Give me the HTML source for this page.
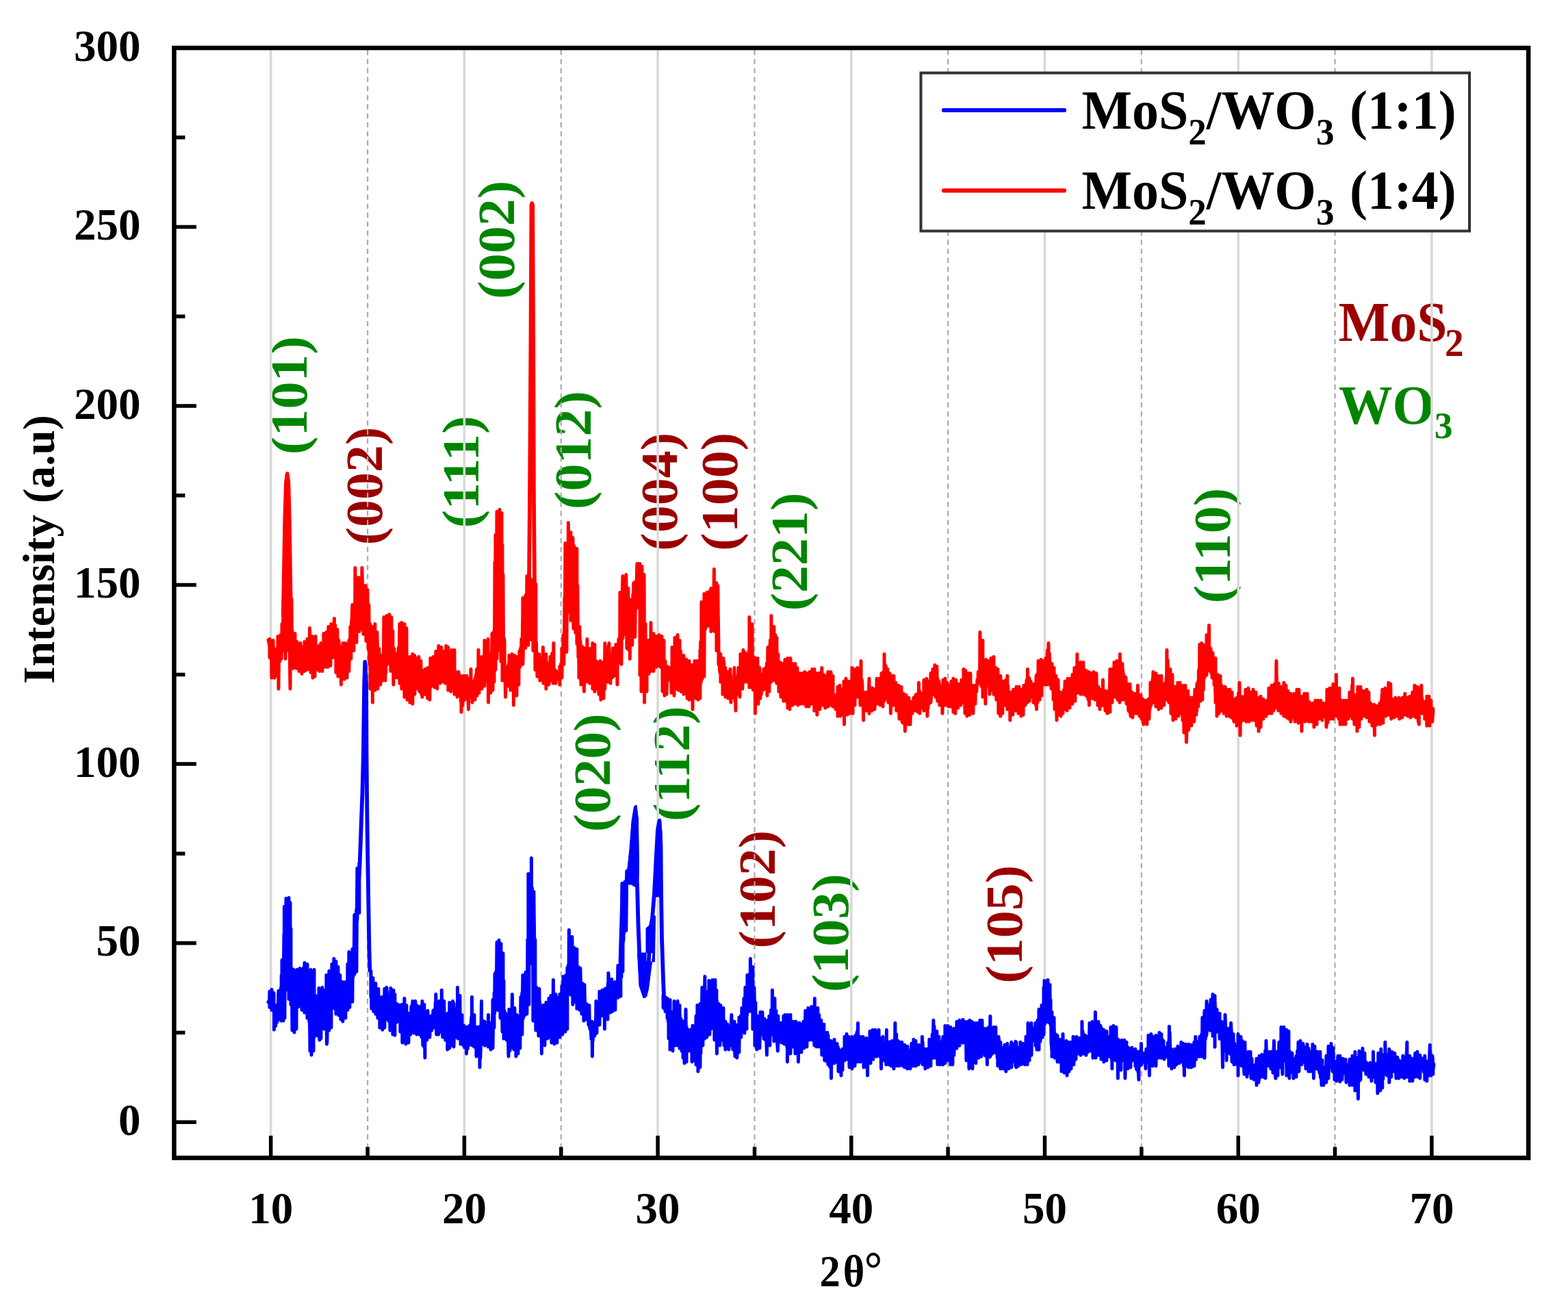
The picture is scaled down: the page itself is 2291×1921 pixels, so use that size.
<!DOCTYPE html><html><head><meta charset="utf-8"><style>
html,body{margin:0;padding:0;background:#fff;overflow:hidden;}
svg{display:block;}
text{font-family:'Liberation Serif', 'Times New Roman', serif;}
</style></head><body>
<svg width="2291" height="1921" viewBox="0 0 2291 1921">
<rect width="2291" height="1921" fill="#fff"/>

<text transform="translate(447.8,664.2) rotate(-90) scale(1,0.955)" font-size="80" font-weight="bold" fill="#008500">(101)</text>
<text transform="translate(557.7,796.6) rotate(-90) scale(1,0.955)" font-size="80" font-weight="bold" fill="#9b0000">(002)</text>
<text transform="translate(699.4,771.5) rotate(-90) scale(1,0.955)" font-size="80" font-weight="bold" fill="#008500">(111)</text>
<text transform="translate(750.6,436.9) rotate(-90) scale(1,0.955)" font-size="80" font-weight="bold" fill="#008500">(002)</text>
<text transform="translate(863.0,744.2) rotate(-90) scale(1,0.955)" font-size="80" font-weight="bold" fill="#008500">(012)</text>
<text transform="translate(988.7,804.9) rotate(-90) scale(1,0.955)" font-size="80" font-weight="bold" fill="#9b0000">(004)</text>
<text transform="translate(1077.3,804.9) rotate(-90) scale(1,0.955)" font-size="80" font-weight="bold" fill="#9b0000">(100)</text>
<text transform="translate(1179.4,892.6) rotate(-90) scale(1,0.955)" font-size="80" font-weight="bold" fill="#008500">(221)</text>
<text transform="translate(1797.4,881.5) rotate(-90) scale(1,0.955)" font-size="80" font-weight="bold" fill="#008500">(110)</text>
<text transform="translate(891.1,1215.4) rotate(-90) scale(1,0.955)" font-size="80" font-weight="bold" fill="#008500">(020)</text>
<text transform="translate(1007.0,1200.1) rotate(-90) scale(1,0.955)" font-size="80" font-weight="bold" fill="#008500">(112)</text>
<text transform="translate(1132.1,1385.8) rotate(-90) scale(1,0.955)" font-size="80" font-weight="bold" fill="#9b0000">(102)</text>
<text transform="translate(1239.2,1449.5) rotate(-90) scale(1,0.955)" font-size="80" font-weight="bold" fill="#008500">(103)</text>
<text transform="translate(1493.2,1436.8) rotate(-90) scale(1,0.955)" font-size="80" font-weight="bold" fill="#9b0000">(105)</text>
<g transform="translate(1955.5,497.5) scale(0.97,1)"><text font-size="82" font-weight="bold" fill="#9b0000">MoS<tspan font-size="57" dy="22" dx="-3.6">2</tspan></text></g>
<g transform="translate(1956,618.7) scale(0.97,1)"><text font-size="81" font-weight="bold" fill="#008500">WO<tspan font-size="55" dy="21">3</tspan></text></g>
<g><line x1="395.7" y1="70.0" x2="395.7" y2="1691.5" stroke="#d9d9d9" stroke-width="3.6"/><line x1="678.4" y1="70.0" x2="678.4" y2="1691.5" stroke="#d9d9d9" stroke-width="3.6"/><line x1="961.1" y1="70.0" x2="961.1" y2="1691.5" stroke="#d9d9d9" stroke-width="3.6"/><line x1="1243.8" y1="70.0" x2="1243.8" y2="1691.5" stroke="#d9d9d9" stroke-width="3.6"/><line x1="1526.5" y1="70.0" x2="1526.5" y2="1691.5" stroke="#d9d9d9" stroke-width="3.6"/><line x1="1809.2" y1="70.0" x2="1809.2" y2="1691.5" stroke="#d9d9d9" stroke-width="3.6"/><line x1="2091.9" y1="70.0" x2="2091.9" y2="1691.5" stroke="#d9d9d9" stroke-width="3.6"/><line x1="537.1" y1="73.0" x2="537.1" y2="1691.5" stroke="#ababab" stroke-width="2.2" stroke-dasharray="7.5 5.7"/><line x1="819.8" y1="73.0" x2="819.8" y2="1691.5" stroke="#ababab" stroke-width="2.2" stroke-dasharray="7.5 5.7"/><line x1="1102.5" y1="73.0" x2="1102.5" y2="1691.5" stroke="#ababab" stroke-width="2.2" stroke-dasharray="7.5 5.7"/><line x1="1385.1" y1="73.0" x2="1385.1" y2="1691.5" stroke="#ababab" stroke-width="2.2" stroke-dasharray="7.5 5.7"/><line x1="1667.8" y1="73.0" x2="1667.8" y2="1691.5" stroke="#ababab" stroke-width="2.2" stroke-dasharray="7.5 5.7"/><line x1="1950.5" y1="73.0" x2="1950.5" y2="1691.5" stroke="#ababab" stroke-width="2.2" stroke-dasharray="7.5 5.7"/></g>
<path d="M392.0,934.9L392.0,934.9L392.0,934.9L392.6,937.2L393.1,939.8L393.7,944.0L394.0,933.4L394.0,960.4L394.3,941.8L394.8,941.9L395.4,937.2L396.0,962.8L396.5,943.3L397.0,990.3L397.1,978.5L397.6,961.9L398.2,963.3L398.8,966.9L399.0,935.4L399.3,944.4L399.9,968.7L400.5,961.8L401.0,947.4L401.0,990.3L401.0,969.2L401.6,962.1L402.2,956.2L402.7,975.8L403.3,972.9L403.9,971.2L404.0,955.4L404.4,986.9L405.0,966.4L405.6,982.3L406.0,929.4L406.1,967.3L406.7,971.0L407.0,1006.3L407.3,972.6L407.8,950.5L408.4,950.4L408.9,965.9L409.5,957.9L410.0,927.4L410.1,956.1L410.6,944.9L411.0,962.4L411.2,956.8L411.8,939.3L412.0,911.4L412.3,924.8L412.9,943.9L413.5,922.2L414.0,875.4L414.0,950.4L414.0,915.0L414.6,894.2L415.2,886.8L415.7,909.3L416.3,891.3L416.9,930.0L417.0,962.4L417.4,898.0L418.0,934.8L418.6,943.3L419.1,902.6L419.7,922.7L420.0,950.4L420.2,919.0L420.8,893.1L421.4,909.4L421.9,919.0L422.5,898.8L423.1,930.7L423.6,979.1L424.0,1006.3L424.2,948.6L424.8,921.1L425.3,976.8L425.9,972.9L426.0,875.4L426.5,933.3L427.0,921.4L427.0,944.3L427.6,925.7L428.0,976.4L428.2,932.5L428.7,933.6L429.3,927.7L429.9,936.4L430.4,948.0L431.0,925.4L431.0,944.8L431.5,942.3L432.1,941.2L432.7,972.9L433.0,976.4L433.2,954.5L433.8,940.5L434.0,937.4L434.4,950.8L434.9,959.6L435.5,960.7L436.1,957.1L436.6,957.1L437.0,949.4L437.0,980.4L437.2,972.6L437.8,973.3L438.3,954.9L438.9,959.7L439.0,939.4L439.5,967.8L440.0,951.3L440.6,979.4L441.0,984.3L441.2,976.4L441.7,973.6L442.3,954.9L442.8,946.6L443.4,944.7L444.0,958.5L444.5,967.9L445.0,937.4L445.0,980.4L445.1,978.7L445.7,965.3L446.2,945.9L446.8,944.3L447.4,968.6L447.9,963.8L448.5,966.3L449.0,933.4L449.0,978.4L449.1,949.9L449.6,971.4L450.2,959.4L450.8,951.6L451.3,955.3L451.9,961.5L452.5,960.4L452.5,917.4L453.0,947.2L453.6,929.7L454.0,982.3L454.1,974.2L454.7,953.9L455.3,975.2L455.8,955.2L456.0,929.4L456.4,933.7L457.0,990.3L457.0,978.8L457.5,973.6L458.1,968.7L458.7,960.4L459.2,945.6L459.8,953.8L460.0,988.3L460.4,948.9L460.9,958.4L461.0,929.4L461.5,953.8L462.1,970.3L462.6,967.3L463.0,945.4L463.0,978.4L463.2,962.4L463.8,954.0L464.3,955.2L464.9,958.2L465.4,955.3L466.0,943.4L466.0,966.7L466.6,958.4L467.0,980.4L467.1,967.6L467.7,954.1L468.3,950.8L468.8,965.7L468.9,939.4L469.4,965.9L470.0,966.0L470.5,959.8L470.9,980.4L471.1,960.9L471.7,954.2L472.2,963.8L472.8,966.6L472.9,925.4L473.4,956.2L473.9,963.2L474.5,949.3L474.9,974.4L475.1,938.4L475.6,931.9L476.2,942.6L476.7,966.2L476.9,923.4L477.3,945.0L477.9,942.4L478.4,970.2L478.9,974.4L479.0,951.0L479.6,941.9L479.9,915.4L480.1,968.6L480.7,932.1L481.3,939.3L481.8,928.8L482.4,935.1L482.9,972.4L483.0,942.2L483.5,922.1L483.9,911.4L484.1,944.0L484.7,940.1L485.2,958.8L485.8,918.4L486.4,929.6L486.9,917.0L486.9,960.4L487.5,943.9L488.0,937.7L488.4,903.4L488.6,939.0L489.2,948.4L489.7,913.0L490.3,948.4L490.9,947.4L490.9,982.3L491.4,963.8L492.0,948.2L492.6,949.5L492.9,919.4L493.1,947.0L493.7,971.6L493.9,988.3L494.3,941.8L494.8,956.0L494.9,935.4L495.4,944.4L496.0,945.7L496.5,957.5L497.1,971.0L497.7,962.7L497.9,945.4L498.2,954.8L498.4,1000.3L498.8,951.1L499.3,978.6L499.9,960.1L500.5,969.7L500.9,939.4L501.0,974.6L501.6,976.2L502.2,963.8L502.7,983.9L502.9,992.3L503.3,970.4L503.9,974.6L504.4,959.0L504.9,939.4L505.0,944.3L505.6,961.1L506.1,952.0L506.7,964.9L506.9,943.4L506.9,990.3L507.3,978.5L507.8,953.1L508.4,956.8L509.0,951.7L509.5,964.2L509.9,935.4L509.9,980.4L510.1,968.5L510.6,957.1L511.2,939.2L511.8,926.9L511.9,915.4L512.3,937.8L512.9,925.2L512.9,962.4L513.5,907.2L514.0,909.0L514.6,889.1L514.9,883.4L515.2,900.4L515.7,917.9L516.3,926.4L516.9,931.7L516.9,950.4L517.4,885.1L518.0,901.6L518.6,910.3L518.9,829.4L519.1,880.0L519.7,915.5L520.3,916.0L520.8,869.2L520.9,938.4L521.4,903.4L521.9,916.5L522.5,907.8L523.1,902.1L523.6,853.7L523.9,843.4L524.2,863.0L524.8,879.6L524.9,922.4L525.3,888.3L525.9,892.2L526.5,857.0L527.0,900.3L527.6,877.6L527.9,918.4L528.2,863.3L528.7,874.8L528.9,829.4L529.3,846.8L529.9,876.0L530.4,912.6L530.9,926.4L531.0,878.1L531.6,892.5L532.1,903.7L532.7,878.5L533.2,868.1L533.8,896.1L533.9,855.4L534.4,879.2L534.9,936.4L534.9,870.5L535.5,913.0L536.1,898.7L536.6,900.7L536.9,861.4L537.2,887.8L537.8,911.9L537.9,946.4L538.3,948.3L538.9,901.1L538.9,883.4L539.5,957.2L539.9,970.4L540.0,926.2L540.6,957.8L540.9,911.4L540.9,1006.3L541.2,949.8L541.7,945.3L542.3,968.0L542.9,982.7L543.4,999.0L543.9,915.4L544.0,976.6L544.4,1026.3L544.5,943.1L545.1,941.1L545.7,953.6L546.2,938.2L546.8,971.2L547.4,949.2L547.9,911.4L547.9,1008.3L547.9,957.9L548.5,991.0L549.1,970.7L549.6,952.4L550.2,989.3L550.8,956.0L550.9,923.4L551.3,939.7L551.9,966.4L551.9,1006.3L552.5,978.4L553.0,956.9L553.6,965.5L553.9,947.4L554.2,984.5L554.7,994.1L555.3,989.8L555.8,988.1L555.9,1000.3L556.4,971.2L557.0,980.6L557.5,984.8L557.9,957.4L558.1,960.6L558.7,970.3L558.9,994.3L559.2,957.6L559.8,959.4L560.4,962.6L560.9,901.4L560.9,945.9L561.5,945.5L562.1,916.2L562.6,952.8L562.9,994.3L563.2,933.1L563.8,983.2L564.3,924.2L564.9,910.6L564.9,899.4L565.5,915.3L565.9,970.4L566.0,916.6L566.6,950.2L567.1,939.2L567.7,930.8L568.3,922.5L568.8,909.1L568.9,897.4L568.9,966.4L569.4,937.4L570.0,941.4L570.5,941.8L570.9,980.4L571.1,921.4L571.7,936.3L571.9,901.4L572.2,978.9L572.8,946.0L573.4,944.5L573.9,921.4L573.9,972.3L574.5,949.5L574.9,1000.3L575.1,978.4L575.6,990.1L575.9,947.4L576.2,978.4L576.8,955.9L577.3,977.9L577.9,987.3L578.4,981.8L578.9,955.4L579.0,973.8L579.6,969.4L579.9,990.3L580.1,975.1L580.7,971.5L581.3,960.0L581.8,980.0L581.9,951.4L582.4,946.0L583.0,966.7L583.5,942.6L583.9,911.4L583.9,998.3L584.1,938.1L584.7,945.0L585.2,983.8L585.8,973.5L586.4,932.7L586.9,909.4L586.9,1006.3L586.9,990.2L587.5,925.9L588.1,968.5L588.6,944.6L589.2,992.3L589.7,924.4L590.3,951.1L590.9,958.5L590.9,911.4L590.9,1018.3L591.4,994.2L592.0,951.2L592.6,982.2L593.1,970.9L593.7,968.2L593.9,917.4L594.3,988.6L594.8,979.7L594.9,959.4L594.9,1022.3L595.4,979.7L596.0,1011.1L596.5,976.8L597.1,998.0L597.7,965.7L598.2,974.4L598.8,1018.9L598.9,959.4L598.9,1026.3L599.4,1017.4L599.9,1001.5L600.5,996.7L601.0,984.5L601.6,993.7L602.2,981.4L602.7,961.8L602.9,955.4L602.9,1028.3L603.3,978.0L603.9,992.5L604.4,994.3L605.0,993.1L605.6,993.9L605.9,957.4L605.9,1014.3L606.1,972.3L606.7,993.1L607.3,973.5L607.8,982.8L608.4,989.4L608.9,961.4L608.9,1006.3L609.0,979.5L609.5,963.2L610.1,988.2L610.7,999.6L611.2,974.7L611.8,998.7L611.9,959.4L612.3,984.5L612.9,1010.3L612.9,976.0L613.5,981.2L614.0,1001.7L614.6,988.5L614.9,965.4L615.2,984.3L615.7,1014.1L616.3,988.7L616.9,979.4L616.9,1018.3L616.9,997.3L617.4,1000.6L618.0,1008.4L618.6,1008.9L619.1,995.9L619.7,990.7L620.3,993.7L620.8,994.9L620.9,977.4L620.9,1014.3L621.4,983.0L622.0,988.3L622.5,1002.8L623.1,1015.0L623.6,983.4L624.2,988.7L624.8,1001.3L624.9,975.4L624.9,1020.3L625.3,989.0L625.9,1003.6L626.5,1010.9L627.0,989.0L627.6,997.8L627.9,1022.3L628.2,990.3L628.7,987.4L628.9,961.4L629.3,973.8L629.9,985.8L630.4,980.8L630.9,1002.3L631.0,989.5L631.6,975.8L632.1,991.3L632.7,983.4L632.9,959.4L633.3,987.7L633.8,998.1L634.4,964.3L634.9,1004.3L634.9,962.8L635.5,993.4L636.1,986.8L636.6,986.9L636.8,951.4L637.2,979.1L637.8,979.1L638.3,983.5L638.8,1006.3L638.9,964.6L639.5,956.3L640.0,970.2L640.6,969.1L640.8,943.4L641.2,953.4L641.7,968.3L642.3,958.4L642.8,998.3L642.9,980.6L643.4,949.1L644.0,969.9L644.6,964.3L644.8,945.4L645.1,967.9L645.7,964.1L646.2,978.5L646.8,969.4L646.8,996.3L647.4,967.5L647.9,993.6L648.5,963.9L648.8,951.4L649.1,972.5L649.6,971.3L650.2,979.0L650.8,979.8L650.8,998.3L651.3,961.8L651.8,943.4L651.9,959.7L652.5,989.2L653.0,965.4L653.6,971.1L654.2,958.2L654.7,990.7L654.8,945.4L654.8,1008.3L655.3,964.9L655.9,1001.8L656.4,958.3L657.0,1007.0L657.5,966.6L658.1,990.1L658.7,996.7L658.8,953.4L658.8,1010.3L659.2,980.0L659.8,978.7L660.0,949.4L660.0,1006.3L660.4,985.5L660.9,979.1L661.5,967.9L662.1,976.9L662.6,960.9L663.2,1000.8L663.8,968.8L664.0,949.4L664.0,1014.3L664.3,978.5L664.9,988.3L665.5,997.5L666.0,981.4L666.0,997.7L666.6,999.2L667.2,1000.9L667.7,997.6L668.0,1018.3L668.3,993.6L668.8,995.9L669.4,1013.9L670.0,995.5L670.0,981.4L670.5,995.4L671.1,996.1L671.7,996.7L672.2,998.3L672.8,1003.7L673.4,1025.4L673.9,1002.2L674.0,987.3L674.0,1040.3L674.5,1009.9L675.1,1014.0L675.6,1031.0L676.2,1022.2L676.8,1012.6L677.3,1017.0L677.9,1008.4L678.0,987.3L678.5,1019.1L679.0,1022.3L679.0,994.6L679.6,1004.0L680.1,1009.6L680.7,1006.2L681.3,1016.4L681.8,997.3L682.0,987.3L682.4,1005.0L683.0,990.8L683.5,1011.7L684.1,1024.4L684.5,1036.3L684.7,1008.2L685.2,999.1L685.8,1007.4L686.4,1017.8L686.9,1017.7L687.5,1007.1L688.0,977.4L688.1,1004.3L688.6,1005.4L689.2,1017.5L689.8,1006.9L690.0,1026.3L690.3,996.2L690.9,1000.5L691.4,1006.6L692.0,1017.2L692.6,1010.3L693.1,994.7L693.7,993.6L694.0,991.3L694.0,1022.3L694.3,1006.1L694.8,1009.8L695.4,986.6L696.0,989.4L696.5,978.4L697.0,1016.3L697.1,977.0L697.7,982.6L698.2,979.1L698.8,985.5L699.0,949.4L699.4,983.9L699.9,963.3L700.0,1012.3L700.5,974.1L701.1,1000.8L701.6,973.0L702.2,973.3L702.7,980.3L703.3,984.9L703.9,998.7L704.0,959.4L704.0,1006.3L704.4,985.0L705.0,968.2L705.6,967.5L706.1,970.6L706.7,960.1L707.3,974.0L707.8,963.0L708.0,935.4L708.0,1002.3L708.4,974.8L709.0,970.4L709.5,957.4L710.1,970.7L710.7,994.1L711.2,969.1L711.8,985.4L712.4,986.1L712.9,948.4L713.0,933.4L713.5,1026.3L713.5,953.1L714.0,990.4L714.6,1007.5L715.2,993.5L715.7,997.3L716.0,981.4L716.3,1001.2L716.9,986.4L717.0,1012.3L717.4,988.1L718.0,973.6L718.6,952.0L719.0,925.4L719.1,996.3L719.7,969.7L720.0,1008.3L720.3,973.9L720.8,969.2L721.0,923.4L721.4,966.6L722.0,974.4L722.0,996.3L722.5,940.4L723.0,821.4L723.1,948.5L723.7,902.7L724.0,781.5L724.0,978.4L724.2,864.6L724.8,852.8L725.3,861.4L725.9,766.7L726.0,747.5L726.0,962.4L726.5,832.9L727.0,866.4L727.0,775.8L727.6,750.5L728.2,826.6L728.7,833.4L729.0,868.4L729.3,794.7L729.9,861.6L730.0,744.5L730.0,950.4L730.4,924.0L731.0,845.4L731.6,947.9L732.0,966.4L732.1,782.6L732.7,765.7L733.0,749.5L733.3,946.9L733.8,937.5L734.0,795.5L734.0,994.3L734.4,898.1L735.0,855.1L735.0,839.4L735.5,931.9L736.1,935.2L736.6,932.8L737.0,935.4L737.2,976.1L737.8,973.5L738.3,1003.2L738.5,1018.3L738.9,1005.5L739.0,975.4L739.5,984.1L740.0,997.9L740.6,993.9L741.2,987.9L741.7,990.3L742.0,975.4L742.3,988.3L742.9,970.8L743.0,1002.3L743.4,997.9L743.9,957.4L744.0,969.0L744.6,988.3L745.1,973.7L745.7,986.7L745.9,1008.3L746.3,988.5L746.8,970.0L747.4,991.4L747.9,978.8L747.9,955.4L748.5,984.0L749.1,1006.2L749.6,990.7L750.2,985.4L750.4,1030.3L750.8,992.2L751.3,989.3L751.9,973.4L751.9,957.4L752.5,1004.2L753.0,998.6L753.6,979.8L754.2,997.2L754.7,999.5L754.9,1016.3L755.3,977.8L755.9,985.4L755.9,959.4L756.4,993.4L757.0,971.4L757.6,987.1L757.9,1000.3L758.1,966.7L758.7,973.8L758.9,951.4L759.2,957.9L759.8,969.3L759.9,974.4L760.4,947.6L760.9,949.1L761.5,948.6L761.9,933.4L762.1,940.5L762.6,962.9L763.2,935.7L763.8,900.9L763.9,873.4L763.9,970.4L764.3,957.5L764.9,926.3L765.5,909.1L766.0,884.9L766.6,888.4L767.2,918.3L767.7,916.2L767.9,869.4L767.9,946.4L768.3,909.2L768.9,889.7L769.4,903.8L769.9,841.4L770.0,910.3L770.5,909.3L771.1,875.2L771.7,922.8L771.9,942.4L772.2,915.8L772.8,917.6L773.4,896.1L773.9,888.4L774.5,868.9L774.9,934.4L775.1,903.3L775.6,858.2L775.9,846.7L776.2,846.8L776.8,847.1L777.3,847.3L777.9,847.6L777.9,847.6L778.5,872.1L778.9,950.4L779.0,902.1L779.6,935.6L780.2,897.3L780.7,918.9L781.3,940.1L781.8,888.8L781.9,978.4L782.4,912.8L782.9,853.4L783.0,948.5L783.5,938.1L783.9,953.4L784.1,973.7L784.7,973.2L784.9,988.3L785.2,977.5L785.8,978.3L786.4,970.7L786.9,975.9L787.5,975.7L787.9,955.4L788.1,962.9L788.6,967.5L788.9,994.3L789.2,962.0L789.8,976.1L790.3,964.7L790.9,972.2L791.5,983.7L792.0,972.9L792.6,962.1L793.1,969.4L793.4,945.4L793.7,983.7L793.9,998.3L794.3,974.0L794.8,979.3L795.4,975.3L796.0,993.1L796.5,971.8L797.1,970.8L797.7,985.1L797.9,955.4L797.9,1006.3L798.2,983.7L798.8,971.4L799.4,971.0L799.9,973.6L800.5,969.0L801.1,974.7L801.6,980.7L801.9,1000.3L802.2,979.7L802.8,995.6L803.3,977.1L803.9,993.4L803.9,959.4L804.4,977.8L805.0,969.3L805.6,975.1L806.1,972.4L806.7,954.4L807.3,972.5L807.8,957.3L807.9,998.3L808.4,989.7L808.9,939.4L809.0,970.9L809.5,982.9L810.1,988.9L810.7,991.7L811.2,982.7L811.8,990.9L811.9,979.4L811.9,998.3L812.4,991.8L812.9,986.7L813.5,981.7L814.1,983.2L814.6,983.6L815.2,987.6L815.7,992.4L816.3,985.5L816.9,987.6L817.4,993.7L817.9,973.4L817.9,1000.3L818.0,983.4L818.6,983.4L819.1,984.0L819.7,969.5L820.3,984.8L820.8,975.9L820.9,947.4L820.9,990.3L821.4,964.7L822.0,958.5L822.5,963.6L822.9,927.4L823.1,954.4L823.7,934.3L823.9,970.4L824.2,941.8L824.8,905.5L824.9,873.4L825.4,899.1L825.9,793.5L825.9,887.4L826.5,893.7L827.0,851.9L827.6,909.2L827.9,952.4L828.2,898.4L828.7,824.2L829.3,833.1L829.9,858.0L829.9,894.4L830.4,763.5L830.4,813.1L831.0,856.3L831.6,789.7L831.9,890.4L832.1,782.4L832.7,867.6L833.3,866.4L833.8,875.1L833.9,777.5L833.9,906.4L834.4,859.1L835.0,863.9L835.5,839.6L836.1,856.2L836.7,840.9L836.9,785.5L837.2,801.5L837.8,898.2L837.9,918.4L838.3,858.3L838.9,797.5L838.9,896.4L839.5,848.7L840.0,843.5L840.6,845.9L840.9,924.4L841.2,899.7L841.7,841.0L842.3,811.5L842.9,897.6L842.9,801.5L842.9,940.4L843.4,909.2L843.9,855.4L844.0,876.4L844.6,936.3L844.9,960.4L845.1,943.7L845.7,915.4L845.9,990.3L846.3,940.8L846.8,920.7L846.9,915.4L847.4,949.4L847.9,935.4L848.0,969.1L848.5,966.7L848.9,1000.3L849.1,942.9L849.6,969.7L850.2,969.8L850.8,968.1L851.3,992.5L851.9,945.4L851.9,970.5L852.5,987.6L853.0,990.3L853.4,1010.3L853.6,985.0L854.2,969.1L854.7,966.9L854.9,947.4L855.3,971.9L855.9,973.9L856.4,971.3L857.0,954.3L857.6,964.3L857.9,933.4L857.9,996.3L858.1,968.9L858.7,964.7L859.3,967.8L859.8,970.1L860.4,974.6L860.9,990.6L861.5,968.5L861.9,947.4L861.9,998.3L862.1,973.8L862.6,987.2L863.2,971.1L863.8,996.5L864.3,970.1L864.9,982.8L865.5,974.9L865.9,939.4L865.9,1006.3L866.0,989.7L866.6,976.6L867.2,949.2L867.7,975.0L868.3,999.4L868.9,971.5L868.9,941.4L868.9,1010.3L869.4,999.7L870.0,977.6L870.6,1000.1L870.9,965.4L871.1,998.9L871.7,974.7L871.9,1006.3L872.2,994.0L872.8,986.7L873.4,992.3L873.9,967.4L873.9,995.9L874.5,982.5L874.9,1014.3L875.1,990.9L875.6,997.6L876.2,989.1L876.8,992.5L876.9,965.4L877.3,1006.4L877.9,1022.3L877.9,1005.6L878.5,995.9L879.0,977.0L879.6,990.9L880.2,992.1L880.7,991.9L880.9,967.4L881.3,969.0L881.9,1000.8L881.9,1020.3L882.4,976.4L883.0,978.2L883.5,973.6L883.9,939.4L883.9,1006.3L884.1,957.3L884.7,972.6L885.2,982.3L885.8,965.1L886.4,976.0L886.9,990.2L887.5,990.9L887.9,996.3L888.1,947.7L888.6,950.3L889.2,943.3L889.8,980.7L889.9,939.4L890.3,980.3L890.9,968.0L891.5,968.8L891.9,998.3L892.0,971.2L892.6,963.2L893.2,984.0L893.7,968.6L894.3,956.1L894.8,989.8L895.4,946.9L895.9,988.3L896.0,955.2L896.5,985.0L897.1,962.9L897.7,979.1L898.2,983.5L898.8,946.5L899.4,987.1L899.9,941.4L899.9,968.2L900.5,978.9L901.1,951.8L901.6,949.7L901.9,1000.3L902.2,956.8L902.8,947.1L903.3,954.7L903.9,933.4L903.9,958.7L904.5,948.9L905.0,946.2L905.6,968.6L905.9,865.4L906.1,897.5L906.7,919.7L907.3,942.4L907.8,899.8L907.9,970.4L908.4,921.5L909.0,886.2L909.5,856.5L909.9,841.4L909.9,932.4L910.1,898.7L910.7,886.6L911.2,871.0L911.8,859.4L912.4,891.5L912.8,926.4L912.9,868.8L913.5,895.4L914.1,891.5L914.6,886.5L914.8,839.4L915.2,885.8L915.8,883.7L915.8,946.4L916.3,871.9L916.9,918.8L917.4,948.4L917.8,859.4L918.0,878.8L918.6,908.6L919.1,914.8L919.7,917.0L919.8,875.4L920.3,926.6L920.3,962.4L920.8,888.8L921.4,934.4L921.8,891.4L922.0,909.7L922.5,921.5L923.1,902.9L923.7,906.6L923.8,942.4L924.2,901.0L924.8,868.4L925.4,901.3L925.8,851.4L925.9,871.7L926.5,906.1L927.1,907.9L927.6,861.1L927.8,930.4L928.2,892.7L928.7,875.3L928.8,849.4L929.3,879.7L929.9,888.7L930.4,843.9L930.8,823.4L930.8,882.4L931.0,864.3L931.6,857.0L932.1,853.4L932.7,839.1L933.3,851.9L933.8,838.9L933.8,823.4L933.8,882.4L934.4,875.8L935.0,890.0L935.0,823.4L935.0,986.3L935.5,965.9L936.1,915.0L936.7,927.9L937.0,1010.3L937.2,912.7L937.8,961.9L938.0,827.4L938.4,926.1L938.9,883.0L939.5,944.0L940.0,862.1L940.6,936.8L941.0,839.4L941.2,857.2L941.5,1026.3L941.7,937.3L942.3,928.6L942.9,969.1L943.0,911.4L943.4,957.8L944.0,996.4L944.6,940.0L945.0,939.4L945.0,1010.3L945.1,973.9L945.7,951.3L946.3,953.8L946.8,978.4L947.0,935.4L947.4,953.2L948.0,954.4L948.0,984.3L948.5,976.8L949.1,946.5L949.7,961.8L950.2,959.2L950.8,949.7L951.0,909.4L951.0,980.4L951.3,930.8L951.9,960.7L952.5,971.2L953.0,969.8L953.6,937.1L954.2,977.2L954.7,943.2L955.0,925.4L955.0,980.4L955.3,952.7L955.9,942.1L956.4,950.9L957.0,931.4L957.6,970.3L958.1,965.5L958.7,967.8L959.0,929.4L959.0,974.4L959.3,949.9L959.8,949.3L960.4,950.0L961.0,961.1L961.5,947.5L962.0,972.4L962.1,949.1L962.6,955.6L963.0,927.4L963.2,949.3L963.8,944.1L964.3,961.8L964.9,945.2L965.0,974.4L965.5,946.2L966.0,936.3L966.6,951.8L967.0,929.4L967.2,948.6L967.7,955.1L968.0,1010.3L968.3,989.2L968.9,981.3L969.4,970.3L970.0,935.4L970.0,975.3L970.6,982.7L971.0,1016.3L971.1,970.1L971.7,981.1L972.0,965.4L972.3,990.0L972.8,976.3L973.4,994.2L973.9,993.5L974.0,1014.3L974.5,997.1L975.0,973.4L975.1,992.0L975.6,977.2L976.2,992.4L976.8,979.8L977.3,987.1L977.9,977.8L978.0,992.3L978.5,992.5L979.0,975.4L979.0,980.8L979.6,986.6L980.2,995.3L980.7,993.2L981.0,1012.3L981.3,997.0L981.9,987.7L982.0,945.4L982.4,996.1L983.0,979.6L983.6,972.7L984.1,990.3L984.7,994.4L985.0,1016.3L985.2,974.2L985.8,999.5L986.0,931.4L986.4,970.8L986.9,966.5L987.5,969.5L988.0,1006.3L988.1,965.8L988.6,956.3L989.2,992.8L989.8,965.3L990.0,927.4L990.3,947.8L990.9,958.1L991.0,1008.3L991.5,957.2L992.0,980.1L992.6,997.2L993.0,935.4L993.2,979.2L993.7,987.6L994.3,950.4L994.9,984.0L995.0,955.4L995.0,1010.3L995.4,1002.3L996.0,998.5L996.5,985.0L997.1,986.6L997.7,983.5L998.2,993.8L998.8,991.5L999.0,957.4L999.0,1014.3L999.4,971.4L999.9,986.1L1000.5,1000.7L1001.1,1001.4L1001.6,991.3L1002.2,999.7L1002.8,1000.6L1003.0,963.4L1003.3,977.2L1003.9,1014.7L1004.0,1020.3L1004.5,981.7L1005.0,1009.3L1005.6,1016.0L1006.2,1002.2L1006.7,977.9L1007.0,965.4L1007.0,1022.3L1007.3,995.0L1007.8,977.5L1008.4,1003.8L1009.0,1008.5L1009.5,989.7L1010.1,1006.7L1010.7,1001.7L1011.0,971.4L1011.2,980.7L1011.8,1017.1L1012.0,1036.3L1012.4,997.7L1012.9,1002.4L1013.5,996.7L1014.1,1014.8L1014.6,996.4L1015.0,965.4L1015.2,973.8L1015.8,990.8L1016.3,973.1L1016.9,1002.5L1017.0,1020.3L1017.5,1004.6L1018.0,967.4L1018.6,996.0L1018.9,965.4L1019.1,995.2L1019.7,975.4L1019.9,1022.3L1020.3,991.2L1020.8,987.6L1021.4,983.0L1022.0,985.3L1022.5,1004.7L1022.9,949.4L1022.9,1020.3L1023.1,983.7L1023.7,937.3L1024.2,997.2L1024.8,956.5L1024.9,879.4L1025.4,945.1L1025.9,967.1L1025.9,992.3L1026.5,959.2L1027.1,910.3L1027.6,927.2L1028.2,940.6L1028.8,945.0L1028.9,867.4L1028.9,988.3L1029.3,889.8L1029.9,891.1L1030.4,910.3L1030.9,918.4L1031.0,884.0L1031.6,889.8L1032.1,877.9L1032.7,889.8L1032.9,865.4L1033.3,880.4L1033.8,877.0L1034.4,871.5L1034.9,914.4L1035.0,889.6L1035.5,886.3L1036.1,873.4L1036.7,889.7L1036.9,863.4L1037.2,898.8L1037.8,889.9L1038.4,893.2L1038.9,901.4L1038.9,859.4L1038.9,922.4L1039.5,894.5L1040.1,878.1L1040.6,870.4L1041.2,882.7L1041.7,901.8L1042.3,864.2L1042.9,870.8L1043.4,831.4L1043.4,876.7L1043.9,922.4L1044.0,881.3L1044.6,885.0L1045.1,889.3L1045.7,885.9L1046.3,870.6L1046.8,901.5L1046.9,851.4L1046.9,950.4L1047.4,902.1L1048.0,888.3L1048.5,900.5L1048.9,855.4L1049.1,885.7L1049.7,928.2L1049.9,935.4L1049.9,970.4L1050.2,952.3L1050.8,953.7L1051.4,976.7L1051.9,982.6L1052.5,960.6L1052.9,955.4L1052.9,996.3L1053.0,970.3L1053.6,978.7L1054.2,982.2L1054.7,981.4L1055.3,989.9L1055.9,981.7L1055.9,1014.3L1056.4,988.5L1056.9,961.4L1057.0,1000.5L1057.6,966.4L1058.1,975.9L1058.7,985.9L1059.3,980.2L1059.8,992.6L1059.9,975.4L1059.9,1018.3L1060.4,1006.1L1061.0,997.5L1061.5,1001.3L1062.1,986.6L1062.7,1012.1L1062.9,981.4L1063.2,987.5L1063.8,1009.6L1063.9,1020.3L1064.3,985.9L1064.9,998.5L1065.5,1003.5L1066.0,997.1L1066.6,1003.1L1066.9,977.4L1067.2,1015.0L1067.7,986.2L1067.9,1026.3L1068.3,1011.2L1068.9,1018.3L1069.4,1017.6L1070.0,1005.3L1070.6,996.7L1071.1,1002.2L1071.7,1005.9L1072.3,999.0L1072.8,1020.1L1072.9,975.4L1073.4,999.7L1074.0,1024.6L1074.5,1000.1L1074.9,1038.3L1075.1,988.4L1075.6,993.9L1076.2,988.5L1076.8,1014.4L1077.3,988.5L1077.9,1000.8L1078.5,1008.3L1078.9,975.4L1079.0,1004.2L1079.6,989.1L1080.2,997.9L1080.7,999.7L1080.9,1018.3L1081.3,983.6L1081.9,987.4L1081.9,955.4L1082.4,1001.9L1083.0,965.5L1083.6,969.2L1084.1,961.7L1084.7,976.3L1084.9,1006.3L1085.3,965.7L1085.8,970.8L1085.9,949.4L1086.4,963.7L1086.9,952.8L1087.5,991.7L1087.9,996.3L1088.1,969.9L1088.6,986.5L1088.9,953.4L1089.2,966.6L1089.8,968.0L1090.3,967.3L1090.9,987.8L1091.5,988.1L1091.9,959.4L1091.9,996.3L1092.0,974.9L1092.6,956.1L1093.2,961.0L1093.7,967.9L1094.3,950.1L1094.9,992.6L1094.9,901.4L1094.9,1004.3L1095.4,951.1L1096.0,982.9L1096.6,930.8L1097.1,962.7L1097.7,952.5L1097.9,1004.3L1098.2,966.7L1098.8,924.4L1098.9,911.4L1099.4,972.4L1099.9,1006.3L1099.9,990.0L1100.5,1007.9L1100.9,959.4L1101.1,988.7L1101.6,974.6L1102.2,983.3L1102.8,992.6L1103.3,1017.9L1103.4,1042.3L1103.9,966.5L1103.9,961.4L1104.5,985.8L1105.0,988.9L1105.6,1024.2L1106.2,1005.2L1106.7,994.7L1106.9,961.4L1107.3,994.5L1107.9,990.2L1107.9,1028.3L1108.4,1012.1L1109.0,1000.1L1109.5,992.3L1109.9,975.4L1110.1,997.2L1110.7,984.0L1110.9,1020.3L1111.2,995.3L1111.8,1015.4L1112.4,1013.3L1112.9,985.4L1112.9,1008.1L1113.5,996.3L1114.1,1000.6L1114.6,993.0L1114.9,1008.3L1115.2,999.9L1115.8,991.9L1115.9,977.4L1116.3,995.7L1116.9,980.0L1117.5,993.4L1117.9,1006.3L1118.0,987.4L1118.6,991.3L1118.9,975.4L1119.2,990.6L1119.7,988.9L1120.3,969.2L1120.8,999.2L1120.9,1016.3L1121.4,981.9L1121.9,945.4L1122.0,956.7L1122.5,968.2L1123.1,974.7L1123.7,961.7L1123.9,1010.3L1124.2,950.4L1124.8,947.8L1125.4,935.1L1125.9,968.5L1126.5,963.2L1126.9,996.3L1126.9,899.4L1127.1,941.9L1127.6,982.0L1128.2,946.6L1128.8,931.4L1129.3,973.1L1129.9,992.3L1129.9,948.3L1130.5,946.7L1130.9,915.4L1131.0,939.7L1131.6,942.3L1131.9,994.3L1132.1,941.4L1132.7,965.5L1132.9,927.4L1133.3,979.5L1133.8,977.8L1134.4,990.6L1134.9,931.4L1134.9,998.3L1135.0,962.7L1135.5,973.3L1136.1,989.1L1136.7,965.9L1136.9,955.4L1137.2,999.7L1137.8,978.5L1137.9,1010.3L1138.4,979.0L1138.9,997.1L1139.5,991.2L1139.9,967.4L1140.1,990.1L1140.6,983.7L1140.9,1018.3L1141.2,1004.1L1141.8,971.8L1142.3,992.2L1142.9,988.3L1143.4,995.1L1143.9,969.4L1144.0,983.2L1144.6,1007.5L1144.9,1024.3L1145.1,1009.9L1145.7,993.9L1146.3,979.3L1146.8,1005.3L1146.9,963.4L1147.4,988.7L1147.9,1024.3L1148.0,993.7L1148.5,996.8L1149.1,983.2L1149.7,1004.3L1150.2,1014.0L1150.8,976.1L1150.9,961.4L1150.9,1034.3L1151.4,1002.0L1151.9,984.7L1152.5,981.0L1153.1,1000.2L1153.6,989.1L1153.9,1036.3L1154.2,983.2L1154.7,974.4L1154.9,961.4L1155.3,1014.3L1155.9,970.7L1156.4,997.1L1157.0,992.0L1157.6,994.4L1157.9,969.4L1157.9,1030.3L1158.1,1014.5L1158.7,1000.4L1159.3,1009.5L1159.8,1018.7L1160.4,1007.2L1161.0,988.5L1161.5,1018.7L1161.9,969.4L1161.9,1028.3L1162.1,1017.3L1162.7,1001.8L1163.2,1007.6L1163.8,1000.8L1164.4,1000.8L1164.9,975.4L1164.9,986.3L1165.5,1011.8L1165.9,1030.3L1166.0,1000.5L1166.6,992.0L1167.2,993.2L1167.7,1003.4L1167.9,983.4L1168.3,1003.9L1168.9,1003.2L1169.4,988.7L1169.9,1028.3L1170.0,997.1L1170.6,1012.1L1171.1,1012.1L1171.7,1017.2L1171.9,983.4L1172.3,989.0L1172.8,1018.5L1173.4,1008.5L1173.9,1028.3L1174.0,1012.2L1174.5,995.0L1175.1,1009.8L1175.7,988.3L1175.9,981.4L1176.2,992.2L1176.8,1004.7L1177.3,997.2L1177.9,1032.3L1177.9,1019.1L1178.5,1003.9L1178.9,983.4L1179.0,1024.9L1179.6,999.8L1180.2,1024.5L1180.7,994.3L1181.3,1000.3L1181.9,1032.3L1181.9,1020.1L1182.4,1010.0L1182.9,981.4L1183.0,1008.1L1183.6,1007.0L1184.1,1005.5L1184.7,991.3L1185.3,995.7L1185.8,999.1L1185.8,1028.3L1186.4,1000.0L1186.8,977.4L1187.0,990.2L1187.5,1018.4L1188.1,1006.9L1188.6,1016.1L1189.2,989.9L1189.8,986.4L1189.8,977.4L1189.8,1038.3L1190.3,1004.4L1190.9,1016.9L1191.5,1014.5L1192.0,1018.0L1192.6,1010.6L1192.8,983.4L1193.2,1013.3L1193.7,1028.2L1193.8,1044.3L1194.3,1015.9L1194.9,1034.9L1195.4,1004.5L1195.8,983.4L1196.0,1024.8L1196.6,986.2L1197.1,1013.2L1197.7,1012.4L1197.8,1036.3L1198.3,1013.7L1198.8,1002.4L1199.4,982.3L1199.9,992.6L1200.5,996.7L1200.8,975.4L1201.1,1012.2L1201.6,986.0L1201.8,1030.3L1202.2,1021.8L1202.8,984.9L1203.3,1007.1L1203.9,1019.5L1204.5,1008.0L1205.0,1015.7L1205.6,1015.8L1205.8,987.3L1205.8,1034.3L1206.2,1006.8L1206.7,1003.0L1207.3,1015.8L1207.9,999.6L1208.4,1016.4L1209.0,1022.0L1209.6,993.8L1209.8,981.4L1209.8,1032.3L1210.0,983.4L1210.0,1030.3L1210.1,999.7L1210.7,993.3L1211.2,1016.1L1211.8,1013.4L1212.4,1001.1L1212.9,1006.6L1213.0,1030.3L1213.5,1009.4L1214.0,981.4L1214.1,1020.4L1214.6,997.5L1215.2,1016.6L1215.8,1004.7L1216.3,1010.2L1216.9,1020.1L1217.0,987.3L1217.0,1032.3L1217.5,1014.4L1218.0,1018.3L1218.6,1019.8L1219.2,1032.8L1219.7,1019.4L1220.0,1019.3L1220.3,1027.6L1220.9,1025.2L1221.0,1036.3L1221.4,1024.3L1222.0,1015.1L1222.5,1021.6L1223.1,1029.8L1223.7,1037.1L1224.0,1003.3L1224.0,1046.3L1224.2,1025.0L1224.8,1025.1L1225.4,1018.4L1225.9,1018.3L1226.5,1013.6L1227.0,1001.3L1227.1,1024.1L1227.6,1028.7L1228.0,1046.3L1228.2,1016.8L1228.8,1017.0L1229.3,1024.7L1229.9,1026.3L1230.0,1007.3L1230.5,1019.6L1231.0,1024.3L1231.6,1034.7L1232.2,1032.2L1232.7,1045.0L1233.0,995.3L1233.3,1009.1L1233.5,1058.3L1233.8,1004.7L1234.4,1010.5L1235.0,1022.1L1235.5,1003.1L1236.0,991.3L1236.1,1030.8L1236.7,1022.8L1237.2,1037.8L1237.8,1034.3L1238.0,1044.3L1238.4,1011.8L1238.9,1028.8L1239.5,1013.7L1240.0,995.3L1240.1,1008.7L1240.6,1020.1L1241.2,1032.4L1241.8,1018.4L1242.0,1042.3L1242.3,1014.2L1242.9,1009.3L1243.0,1003.3L1243.5,1033.8L1244.0,1014.5L1244.6,1012.2L1245.0,975.4L1245.1,1015.4L1245.7,1018.6L1246.0,1042.3L1246.3,1000.3L1246.8,1019.0L1247.4,1024.2L1248.0,1001.7L1248.5,1008.0L1249.0,977.4L1249.0,1030.3L1249.1,1006.4L1249.7,1006.2L1250.2,1001.6L1250.8,1004.8L1251.4,995.8L1251.9,1002.6L1252.5,1002.0L1253.0,975.4L1253.0,1018.3L1253.1,996.9L1253.6,982.5L1254.2,1008.6L1254.8,999.1L1255.3,999.4L1255.9,998.1L1256.4,1001.6L1257.0,1030.3L1257.0,1021.7L1257.6,996.7L1258.0,965.4L1258.1,1009.0L1258.7,1004.4L1259.3,992.7L1259.8,1000.0L1260.4,1028.9L1261.0,1013.3L1261.5,1052.3L1261.5,1038.2L1262.0,1011.3L1262.1,1033.7L1262.7,1035.1L1263.2,1027.5L1263.8,1029.0L1264.4,1023.5L1264.9,1022.1L1265.5,1017.0L1266.0,1011.3L1266.0,1038.3L1266.1,1021.5L1266.6,1011.7L1267.2,1022.3L1267.7,1013.1L1268.3,1018.6L1268.9,1030.0L1269.4,1008.9L1270.0,991.3L1270.0,1042.3L1270.0,1027.3L1270.6,1003.2L1271.1,1013.5L1271.7,1018.6L1272.3,1020.1L1272.8,1022.7L1273.4,1019.2L1274.0,1022.5L1274.0,1038.3L1274.5,1032.7L1275.0,1005.3L1275.1,1022.2L1275.7,1012.1L1276.2,1023.8L1276.8,1022.1L1277.4,1031.5L1277.9,1016.3L1278.0,1007.3L1278.0,1036.3L1278.5,1018.8L1279.0,1022.0L1279.6,1022.0L1280.2,1012.4L1280.7,1018.1L1281.0,991.3L1281.3,1018.3L1281.9,999.6L1282.0,1028.3L1282.4,1014.3L1283.0,1020.2L1283.6,997.7L1284.1,1008.4L1284.7,995.0L1285.0,991.3L1285.3,1016.5L1285.8,1004.2L1286.0,1030.3L1286.4,1013.2L1287.0,1002.7L1287.5,1007.8L1288.0,983.4L1288.1,1026.9L1288.7,1005.5L1289.2,999.0L1289.8,1001.2L1290.0,1032.3L1290.3,983.8L1290.9,981.3L1291.5,1006.5L1292.0,1024.3L1292.0,955.4L1292.0,987.6L1292.6,969.8L1293.2,1012.4L1293.7,995.9L1294.3,972.8L1294.9,992.0L1294.9,1020.3L1295.4,994.8L1296.0,996.5L1296.6,999.6L1296.9,977.4L1297.1,1012.4L1297.7,987.4L1297.9,1026.3L1298.3,1002.5L1298.8,1003.0L1299.4,1009.3L1299.9,983.4L1300.0,1009.5L1300.5,1021.7L1301.1,1023.6L1301.4,1042.3L1301.6,1022.8L1302.2,999.6L1302.8,1004.9L1302.9,987.3L1303.3,1010.7L1303.9,1006.1L1304.5,1022.1L1305.0,1016.8L1305.6,1016.9L1305.9,987.3L1305.9,1030.3L1306.2,998.9L1306.7,1010.6L1307.3,1015.0L1307.9,997.7L1308.4,1030.0L1308.9,997.3L1309.0,1018.3L1309.6,1021.0L1309.9,1038.3L1310.1,1015.5L1310.7,1014.7L1311.3,1018.3L1311.8,1011.7L1312.4,1021.0L1312.9,1001.3L1312.9,1017.8L1313.5,1030.9L1313.9,1050.3L1314.1,1026.0L1314.6,1045.6L1315.2,1012.9L1315.8,1028.0L1316.3,1022.1L1316.9,1017.3L1316.9,1003.3L1317.5,1033.3L1317.9,1054.3L1318.0,1025.9L1318.6,1031.4L1319.2,1056.2L1319.7,1047.3L1319.9,1013.3L1320.3,1028.9L1320.9,1044.7L1321.4,1040.2L1322.0,1049.8L1322.4,1068.3L1322.6,1045.0L1323.1,1020.8L1323.7,1044.5L1323.9,1015.3L1324.2,1041.7L1324.8,1038.6L1325.4,1052.0L1325.9,1045.2L1326.5,1032.5L1326.9,1058.3L1327.1,1034.1L1327.6,1038.5L1327.9,1019.3L1328.2,1038.4L1328.8,1027.9L1329.3,1034.0L1329.9,1046.7L1329.9,1058.3L1330.5,1040.8L1330.9,1025.3L1331.0,1032.6L1331.6,1033.7L1332.2,1031.6L1332.7,1030.2L1332.9,1042.3L1333.3,1030.1L1333.9,1032.3L1334.4,1032.3L1334.9,1019.3L1335.0,1033.5L1335.5,1021.1L1336.1,1028.4L1336.7,1028.1L1336.9,1038.3L1337.2,1022.7L1337.8,1023.6L1337.9,1015.3L1338.4,1024.7L1338.9,1019.7L1339.5,1014.1L1340.1,1025.2L1340.6,1029.3L1340.9,1040.3L1341.2,1020.6L1341.8,1026.1L1342.3,1025.1L1342.4,997.3L1342.9,1019.9L1343.5,1009.6L1343.9,1042.3L1344.0,1011.3L1344.6,1019.4L1345.2,1022.6L1345.7,1020.6L1346.3,1028.3L1346.8,1021.4L1346.9,1013.3L1346.9,1034.3L1347.4,1020.6L1348.0,1021.4L1348.5,1024.8L1349.1,1021.0L1349.7,1022.3L1349.9,993.3L1349.9,1038.3L1350.2,1014.4L1350.8,1024.6L1351.4,1004.5L1351.9,1016.4L1352.5,1013.0L1353.1,1004.3L1353.6,1002.5L1353.9,991.3L1354.2,1026.6L1354.8,1040.4L1354.9,1046.3L1355.3,1018.4L1355.9,1034.8L1356.5,1026.3L1356.9,995.3L1357.0,1012.6L1357.6,1027.7L1358.1,1007.8L1358.7,999.1L1359.3,1021.1L1359.8,1002.5L1359.9,983.4L1359.9,1026.3L1360.4,1019.4L1361.0,1014.9L1361.5,1012.6L1362.1,998.8L1362.7,1008.0L1362.9,977.4L1362.9,1014.3L1363.2,998.9L1363.8,1005.2L1364.4,996.4L1364.9,1011.1L1365.5,996.6L1365.9,971.4L1366.1,981.4L1366.6,987.9L1366.9,1018.3L1367.2,1004.9L1367.8,1005.7L1368.3,1001.3L1368.9,1009.5L1368.9,973.4L1369.4,1018.0L1369.9,1024.3L1370.0,992.1L1370.6,1015.4L1371.1,1007.1L1371.7,1021.6L1371.9,995.3L1372.3,1004.8L1372.8,1001.1L1372.9,1030.3L1373.4,1020.1L1374.0,1019.5L1374.5,1013.9L1374.9,1007.3L1375.1,1024.7L1375.7,1019.7L1376.2,1008.2L1376.8,1023.4L1376.9,1042.3L1377.4,1029.2L1377.9,993.3L1377.9,1012.0L1378.5,1012.6L1379.1,1002.7L1379.6,1021.0L1380.2,1015.6L1380.7,1022.8L1380.9,991.3L1381.3,1009.9L1381.9,1020.4L1381.9,1030.3L1382.4,1015.7L1383.0,1013.1L1383.6,1005.8L1383.9,997.3L1384.1,1016.6L1384.7,1019.5L1385.3,1009.1L1385.8,1010.5L1385.9,1032.3L1386.4,1022.4L1386.9,1001.3L1387.0,1021.5L1387.5,1025.2L1388.1,1010.6L1388.7,1022.0L1389.2,1014.9L1389.8,1014.1L1389.9,995.3L1389.9,1032.3L1390.4,1018.0L1390.9,1022.8L1391.5,1022.3L1392.0,1012.8L1392.6,1021.4L1392.9,991.3L1392.9,1040.3L1393.2,1020.9L1393.7,1031.5L1394.3,1011.4L1394.9,1003.7L1395.4,1038.2L1395.9,1042.3L1396.0,1010.9L1396.6,1008.1L1396.9,993.3L1397.1,1020.0L1397.7,1014.9L1398.3,1017.6L1398.8,1015.6L1399.4,1028.2L1399.9,1034.3L1400.0,1024.8L1400.5,1022.2L1400.9,999.3L1401.1,1022.9L1401.7,1005.7L1402.2,1021.6L1402.8,1016.4L1403.3,1007.2L1403.9,1030.3L1403.9,1013.2L1404.5,1010.1L1404.9,993.3L1405.0,999.1L1405.6,1002.6L1406.2,1025.8L1406.7,994.2L1406.9,1026.3L1407.3,1007.9L1407.9,998.0L1407.9,977.4L1408.4,988.2L1409.0,1001.3L1409.6,1016.7L1409.9,1042.3L1410.1,1014.3L1410.7,1020.5L1410.9,979.4L1411.3,1025.3L1411.8,995.4L1412.4,1020.6L1412.9,1046.3L1413.0,1021.3L1413.5,1014.9L1414.1,1023.0L1414.6,1008.6L1414.9,983.4L1415.2,1010.8L1415.8,1008.3L1416.3,1026.0L1416.9,1044.3L1416.9,1022.8L1417.5,998.8L1417.9,983.4L1418.0,1002.7L1418.6,1027.7L1419.2,1023.0L1419.7,1004.7L1420.3,1034.2L1420.9,1028.7L1420.9,1001.3L1421.4,1025.4L1421.9,1042.3L1422.0,1035.4L1422.6,1015.2L1423.1,1021.6L1423.7,1018.5L1424.3,1017.1L1424.8,1022.7L1424.9,1001.3L1424.9,1028.3L1425.4,1005.6L1425.9,1003.3L1426.5,1008.2L1426.9,1010.3L1427.1,1004.2L1427.6,1000.5L1427.9,993.3L1428.2,997.3L1428.8,998.0L1429.3,981.2L1429.9,998.3L1429.9,983.3L1430.5,993.8L1431.0,986.1L1431.6,983.1L1431.9,923.4L1432.2,956.2L1432.7,975.5L1433.3,940.3L1433.9,981.4L1433.9,1002.3L1434.4,949.5L1435.0,945.2L1435.6,1001.6L1435.9,935.4L1435.9,1018.3L1436.1,986.0L1436.7,978.2L1437.2,997.2L1437.8,989.8L1437.9,975.4L1438.4,983.9L1438.9,984.9L1439.5,1008.7L1439.9,1028.3L1440.1,993.1L1440.6,974.7L1440.9,963.4L1441.2,993.4L1441.8,990.8L1442.3,993.7L1442.9,994.2L1443.5,1001.8L1444.0,986.6L1444.6,979.1L1444.9,965.4L1445.2,977.4L1445.7,998.4L1445.9,1014.3L1446.3,988.1L1446.9,990.0L1447.4,988.9L1447.9,961.4L1448.0,1005.2L1448.5,992.0L1448.9,1008.3L1449.1,986.2L1449.7,975.6L1450.2,989.1L1450.8,990.3L1451.4,973.9L1451.9,959.4L1451.9,1014.3L1451.9,978.5L1452.5,987.4L1453.1,990.1L1453.6,990.9L1454.2,982.8L1454.8,1003.4L1454.9,975.4L1455.3,1014.9L1455.9,1022.3L1455.9,1019.5L1456.5,1012.4L1457.0,984.0L1457.6,1002.0L1457.9,977.4L1458.2,1018.4L1458.7,998.7L1458.9,1042.3L1459.3,1005.6L1459.8,1022.1L1460.4,990.4L1461.0,1022.8L1461.5,1023.9L1461.8,987.3L1461.8,1046.3L1462.1,993.9L1462.7,1015.2L1463.2,1029.8L1463.8,1036.0L1464.4,1025.2L1464.8,1042.3L1464.9,999.3L1465.5,1018.8L1465.8,995.3L1466.1,1004.8L1466.6,1013.3L1467.2,1026.2L1467.8,1019.6L1467.8,1030.3L1468.3,1013.8L1468.9,1024.8L1469.5,993.6L1470.0,1007.3L1470.6,997.8L1471.1,1026.3L1471.7,999.8L1471.8,987.3L1471.8,1036.3L1472.3,1024.0L1472.8,1001.6L1473.4,1030.9L1474.0,1024.1L1474.5,1010.8L1475.1,1032.9L1475.7,1021.7L1475.8,1052.3L1476.2,1015.4L1476.8,1031.6L1476.8,1011.3L1477.4,1036.6L1477.9,1019.9L1478.5,1024.2L1479.1,1025.1L1479.6,1033.6L1479.8,1044.3L1480.2,1023.9L1480.8,1028.1L1480.8,1007.3L1481.3,1025.6L1481.9,1018.6L1482.4,1027.6L1483.0,1017.3L1483.6,1032.6L1483.8,1038.3L1484.1,1027.9L1484.7,1009.2L1484.8,1007.3L1485.0,1003.3L1485.0,1034.3L1485.3,1031.5L1485.8,1004.8L1486.4,1023.7L1487.0,1019.5L1487.5,1032.9L1488.0,1042.3L1488.1,1026.4L1488.7,1006.7L1489.0,1003.3L1489.2,1020.8L1489.8,1037.8L1490.4,1024.6L1490.9,1018.8L1491.5,1023.7L1492.0,1046.3L1492.1,1042.4L1492.6,1023.6L1493.0,1007.3L1493.2,1033.5L1493.7,1027.9L1494.3,1032.6L1494.9,1006.3L1495.0,1044.3L1495.4,1019.1L1496.0,1001.3L1496.0,1009.0L1496.6,1013.5L1497.1,1027.5L1497.7,1004.9L1498.0,1030.3L1498.3,1007.9L1498.8,999.8L1499.4,1018.4L1500.0,993.8L1500.5,1017.4L1501.0,1026.3L1501.1,1001.5L1501.5,977.4L1501.7,994.1L1502.2,1000.9L1502.8,1016.3L1503.4,1000.3L1503.9,990.6L1504.0,1024.3L1504.5,1011.3L1505.0,1006.5L1505.6,1007.7L1506.0,995.3L1506.2,1014.6L1506.7,1013.5L1507.0,1018.3L1507.3,1016.4L1507.9,1006.0L1508.4,1016.5L1509.0,1014.9L1509.6,1013.7L1510.0,999.3L1510.0,1026.3L1510.1,1014.8L1510.7,1005.7L1511.3,1006.8L1511.8,1003.7L1512.4,1024.4L1513.0,1026.4L1513.5,1030.3L1514.0,987.3L1514.1,1011.7L1514.5,1036.3L1514.7,1000.1L1515.2,985.3L1515.8,1026.7L1516.3,1003.3L1516.9,1018.2L1517.0,965.4L1517.5,1006.2L1518.0,992.9L1518.6,992.3L1519.0,1022.3L1519.2,990.3L1519.7,996.0L1520.3,996.8L1520.9,1004.1L1521.0,963.4L1521.4,999.2L1522.0,1016.3L1522.0,1007.3L1522.6,971.6L1523.1,991.8L1523.7,970.5L1524.3,998.4L1524.8,976.3L1525.0,965.4L1525.0,1000.3L1525.4,989.3L1526.0,991.3L1526.5,972.7L1527.1,976.1L1527.6,970.8L1528.0,961.4L1528.2,992.4L1528.8,984.0L1529.0,1000.3L1529.3,983.9L1529.9,959.9L1530.5,949.8L1531.0,958.6L1531.6,959.3L1532.0,939.4L1532.2,990.1L1532.7,973.3L1533.0,1000.3L1533.3,954.8L1533.9,969.0L1534.4,982.0L1535.0,976.8L1535.6,989.3L1536.0,1006.3L1536.1,982.8L1536.7,990.1L1537.0,969.4L1537.3,1005.8L1537.8,992.5L1538.4,976.9L1538.9,999.3L1539.0,1022.3L1539.5,1006.6L1540.0,975.4L1540.1,998.6L1540.6,984.8L1541.0,1036.3L1541.2,1019.4L1541.8,1018.0L1542.3,993.3L1542.9,1012.9L1543.0,987.3L1543.5,1021.9L1544.0,1052.3L1544.0,1023.5L1544.6,1018.4L1545.2,1009.5L1545.7,1010.2L1546.0,993.3L1546.3,1021.8L1546.9,1014.0L1547.0,1044.3L1547.4,1023.1L1548.0,1013.6L1548.6,1022.5L1549.0,1011.3L1549.1,1030.6L1549.7,1028.1L1550.0,1046.3L1550.2,1037.9L1550.8,1019.0L1551.4,1024.0L1551.9,1032.7L1552.0,1017.3L1552.5,1017.4L1553.0,1042.3L1553.1,1021.3L1553.6,1019.1L1554.2,1008.2L1554.8,1017.2L1555.3,1027.7L1555.9,1001.7L1556.0,995.3L1556.0,1036.3L1556.5,1022.2L1557.0,1033.5L1557.6,1014.9L1558.2,1025.9L1558.7,1001.9L1559.0,1038.3L1559.3,1016.8L1559.9,999.5L1560.0,991.3L1560.4,1022.9L1561.0,1009.5L1561.5,1008.5L1562.1,1010.4L1562.7,1001.7L1563.0,1034.3L1563.2,1022.5L1563.8,995.3L1564.0,991.3L1564.4,1014.8L1564.9,999.8L1565.5,1015.2L1566.1,1002.7L1566.6,1012.9L1567.0,985.4L1567.0,1028.3L1567.2,1005.2L1567.8,1020.5L1568.3,1009.1L1568.9,1004.6L1569.5,997.1L1569.9,975.4L1570.0,999.7L1570.6,978.8L1570.9,1024.3L1571.2,985.1L1571.7,992.6L1572.3,1006.8L1572.8,992.1L1573.4,986.3L1573.9,955.4L1574.0,976.7L1574.5,998.2L1574.9,1012.3L1575.1,998.4L1575.7,981.8L1576.2,987.9L1576.8,999.4L1577.4,993.2L1577.9,982.7L1578.5,990.5L1578.9,967.4L1578.9,1014.3L1579.1,976.7L1579.6,990.6L1580.2,981.6L1580.8,984.1L1581.3,997.3L1581.9,976.2L1582.5,992.7L1582.9,967.4L1582.9,1014.3L1583.0,974.3L1583.6,994.3L1584.1,991.7L1584.7,981.2L1585.3,995.7L1585.8,1001.8L1586.4,1006.9L1586.9,979.4L1586.9,1016.3L1587.0,1002.1L1587.5,1005.7L1588.1,999.3L1588.7,982.7L1589.2,992.9L1589.8,1021.6L1590.4,1002.9L1590.9,1020.6L1590.9,981.4L1591.4,1030.3L1591.5,1010.0L1592.1,990.5L1592.6,1010.6L1593.2,1019.9L1593.8,1007.5L1593.9,983.4L1594.3,1003.0L1594.9,997.8L1595.4,1001.0L1595.9,1020.3L1596.0,993.8L1596.6,1005.2L1597.1,997.7L1597.7,1003.2L1597.9,981.4L1598.3,1010.9L1598.8,991.5L1599.4,1009.8L1599.9,1022.3L1600.0,998.9L1600.5,1018.3L1601.1,996.8L1601.7,1008.0L1601.9,983.4L1602.2,1013.8L1602.8,1011.2L1603.4,1012.7L1603.9,1020.7L1603.9,1030.3L1604.5,1005.8L1604.9,1003.3L1605.1,1010.5L1605.6,1006.8L1606.2,1017.3L1606.7,1015.7L1606.9,1036.3L1607.3,1028.7L1607.9,1021.9L1607.9,1007.3L1608.4,1014.1L1609.0,1010.6L1609.6,1014.0L1610.1,1020.5L1610.7,1023.8L1610.9,1030.3L1611.3,1017.6L1611.4,993.3L1611.8,1026.0L1612.4,1014.3L1613.0,1008.7L1613.5,1025.5L1614.1,1032.0L1614.7,1017.8L1614.9,1038.3L1615.2,1015.6L1615.8,1024.1L1615.9,1009.3L1616.4,1010.8L1616.9,1023.5L1617.5,1014.0L1617.9,1042.3L1618.0,1026.1L1618.6,1026.6L1618.9,1011.3L1619.2,1025.9L1619.7,1024.0L1620.3,1015.1L1620.9,1008.3L1621.4,1004.1L1621.9,977.4L1621.9,1040.3L1622.0,981.7L1622.6,985.0L1623.1,1015.2L1623.7,1006.2L1624.3,1005.2L1624.8,994.2L1624.9,977.4L1624.9,1026.3L1625.4,1012.7L1626.0,979.1L1626.5,999.5L1627.1,994.7L1627.7,1010.3L1627.9,967.4L1628.2,985.1L1628.8,990.2L1628.9,1018.3L1629.3,1008.2L1629.9,975.0L1630.5,999.1L1631.0,974.8L1631.6,984.7L1631.9,965.4L1632.2,989.6L1632.7,983.5L1632.9,1022.3L1633.3,1000.4L1633.9,984.7L1634.4,976.3L1635.0,1002.8L1635.6,1009.3L1635.9,1026.3L1636.1,974.1L1636.4,955.4L1636.7,988.2L1637.3,971.4L1637.8,1011.2L1638.4,1013.3L1638.9,1022.3L1639.0,996.9L1639.5,996.1L1639.9,969.4L1640.1,987.9L1640.6,978.5L1641.2,993.9L1641.8,1018.7L1641.9,985.4L1642.3,997.9L1642.9,1022.3L1642.9,997.8L1643.5,1003.4L1644.0,1010.9L1644.6,1005.2L1644.9,989.3L1645.2,998.6L1645.7,1005.3L1645.9,1028.3L1646.3,1009.9L1646.9,1010.0L1647.4,1024.2L1647.9,999.3L1648.0,1014.0L1648.6,1034.5L1648.9,1038.3L1649.1,1013.7L1649.7,1021.8L1650.3,1006.1L1650.8,1041.0L1650.9,999.3L1651.4,1014.2L1651.9,1046.3L1651.9,1023.2L1652.5,1022.6L1653.1,1031.6L1653.6,1019.2L1653.9,1011.3L1654.2,1030.7L1654.8,1018.0L1654.9,1048.3L1655.3,1028.0L1655.9,1015.3L1656.5,1023.9L1657.0,1028.5L1657.6,1027.1L1657.9,1013.3L1657.9,1042.3L1658.2,1024.0L1658.7,1016.8L1659.3,1027.4L1659.9,1025.2L1660.4,1038.7L1660.9,1042.3L1661.0,1031.8L1661.6,1021.2L1662.1,1026.6L1662.4,1001.3L1662.7,1020.3L1663.2,1027.4L1663.8,1023.9L1664.4,1018.7L1664.9,1046.3L1664.9,1022.7L1665.5,1031.6L1666.1,1033.4L1666.6,1030.2L1666.9,1015.3L1667.2,1024.8L1667.8,1037.6L1667.9,1050.3L1668.3,1042.1L1668.9,1032.4L1669.5,1046.1L1669.9,1021.3L1670.0,1043.5L1670.6,1051.6L1670.9,1058.3L1671.2,1033.4L1671.7,1035.4L1672.3,1031.3L1672.9,1043.0L1673.4,1041.5L1673.9,1023.3L1674.0,1052.0L1674.5,1043.5L1675.1,1054.7L1675.7,1049.0L1675.9,1058.3L1676.2,1040.9L1676.8,1039.5L1677.4,1037.5L1677.9,1021.3L1677.9,1034.9L1678.5,1036.8L1678.9,1050.3L1679.1,1043.4L1679.6,1026.7L1680.2,1035.4L1680.8,1024.6L1680.9,997.3L1681.3,1013.2L1681.9,1030.3L1681.9,1011.9L1682.5,1012.7L1683.0,1021.8L1683.6,998.0L1684.2,991.8L1684.7,989.9L1684.9,981.4L1684.9,1026.3L1685.3,1004.8L1685.8,985.0L1686.4,1004.0L1687.0,1002.7L1687.5,1024.5L1688.1,1005.7L1688.7,1016.5L1688.9,983.4L1688.9,1032.3L1689.2,1023.7L1689.8,1013.3L1690.4,1001.5L1690.9,1020.1L1691.5,1010.5L1692.1,1018.3L1692.6,1008.5L1692.9,987.3L1692.9,1036.3L1693.2,1005.1L1693.8,1027.5L1694.3,1012.4L1694.9,1002.4L1695.5,1014.8L1696.0,999.7L1696.6,1019.0L1696.9,987.3L1696.9,1034.3L1697.1,1014.6L1697.7,1011.4L1698.3,1013.4L1698.8,1030.0L1699.4,1011.4L1699.9,999.3L1700.0,1025.3L1700.5,1002.3L1700.9,1030.3L1701.1,1009.8L1701.7,998.8L1702.2,1006.0L1702.8,1001.1L1703.4,1012.0L1703.9,990.8L1704.5,1004.3L1704.9,949.4L1704.9,1022.3L1705.1,1009.2L1705.6,998.4L1706.2,964.5L1706.8,1005.4L1707.3,1021.1L1707.9,1026.3L1707.9,1009.7L1708.4,990.5L1709.0,1015.5L1709.6,1006.4L1709.9,977.4L1710.1,994.2L1710.7,1008.5L1710.9,1042.3L1711.3,998.6L1711.8,993.5L1712.4,1030.5L1712.9,985.4L1713.0,1001.5L1713.5,1010.1L1713.9,1052.3L1714.1,1037.1L1714.7,1016.5L1715.2,1036.9L1715.8,1036.1L1716.4,1028.8L1716.9,1003.3L1716.9,1026.5L1717.5,1035.7L1717.9,1050.3L1718.1,1005.3L1718.6,1036.7L1719.2,1014.6L1719.7,1039.4L1720.3,1025.6L1720.9,997.3L1720.9,1008.4L1721.4,1011.5L1721.9,1046.3L1722.0,1019.8L1722.6,1006.5L1723.1,1003.9L1723.7,1016.4L1723.9,997.3L1724.3,1012.8L1724.8,1029.4L1724.9,1042.3L1725.4,1031.2L1726.0,1015.0L1726.5,1017.6L1727.1,1006.5L1727.7,1043.3L1727.9,1001.3L1727.9,1052.3L1728.2,1021.9L1728.8,1024.4L1729.4,1036.2L1729.9,1070.3L1729.9,1036.5L1730.5,1022.0L1731.0,1059.5L1731.6,1038.7L1731.9,1001.3L1732.2,1053.3L1732.7,1031.9L1733.3,1052.8L1733.4,1084.3L1733.9,1069.6L1734.4,1025.0L1735.0,1063.6L1735.6,1049.4L1735.8,1009.3L1736.1,1048.6L1736.7,1037.9L1736.8,1066.3L1737.3,1020.7L1737.8,1057.2L1738.4,1024.1L1739.0,1039.6L1739.5,1046.1L1739.8,1019.3L1740.1,1037.9L1740.7,1051.7L1740.8,1060.3L1741.2,1035.7L1741.8,1039.0L1742.3,1039.6L1742.8,1019.3L1742.9,1033.5L1743.5,1042.0L1744.0,1031.2L1744.6,1036.7L1744.8,1054.3L1745.2,1028.4L1745.7,1012.4L1745.8,1007.3L1746.3,1024.9L1746.9,1012.7L1747.4,1009.9L1747.8,1044.3L1748.0,1032.2L1748.6,1038.5L1748.8,999.3L1749.1,1027.6L1749.7,1012.3L1750.3,996.3L1750.8,1020.3L1750.8,1032.3L1751.4,978.8L1752.0,1015.3L1752.5,1010.4L1752.8,941.4L1753.1,945.2L1753.6,947.0L1753.8,1024.3L1754.2,996.4L1754.8,951.6L1755.3,972.7L1755.8,939.4L1755.9,1008.0L1756.5,995.3L1756.8,1022.3L1757.0,973.5L1757.6,959.0L1757.8,941.4L1758.2,1007.9L1758.7,969.6L1759.3,953.1L1759.8,945.4L1759.9,970.7L1760.0,947.4L1760.0,990.3L1760.4,957.9L1761.0,958.0L1761.6,968.5L1762.1,961.1L1762.7,971.9L1763.0,927.4L1763.0,986.3L1763.3,947.6L1763.8,974.3L1764.4,961.3L1764.9,927.7L1765.0,970.4L1765.5,946.7L1766.1,938.8L1766.5,913.4L1766.6,954.7L1767.2,945.0L1767.8,957.2L1768.0,980.4L1768.3,966.4L1768.9,971.6L1769.0,947.4L1769.5,983.1L1770.0,967.0L1770.6,963.0L1771.0,990.3L1771.2,984.9L1771.7,985.0L1772.0,953.4L1772.3,988.1L1772.9,977.4L1773.4,974.7L1774.0,979.2L1774.0,1000.3L1774.6,977.2L1775.1,987.4L1775.7,1012.7L1776.0,961.4L1776.0,1026.3L1776.2,993.2L1776.8,1017.2L1777.4,1006.8L1777.9,1012.1L1778.0,1046.3L1778.5,1009.7L1779.0,985.4L1779.1,997.0L1779.6,1024.0L1780.2,1014.2L1780.8,1025.1L1781.0,1042.3L1781.3,1002.9L1781.9,1012.2L1782.5,1011.9L1783.0,987.3L1783.0,1021.2L1783.6,1037.4L1784.0,1038.3L1784.2,1017.0L1784.7,1030.5L1785.0,1001.3L1785.3,1026.6L1785.9,1027.7L1786.4,1013.4L1787.0,1019.6L1787.5,1016.8L1788.0,1042.3L1788.1,1033.1L1788.7,1020.3L1789.2,1023.6L1789.8,1025.0L1790.0,1003.3L1790.4,1014.3L1790.9,1023.7L1791.5,1024.1L1792.0,1046.3L1792.1,1024.9L1792.6,1035.4L1793.0,1007.3L1793.2,1032.2L1793.8,1013.6L1794.3,1025.6L1794.9,1020.7L1795.5,1017.1L1796.0,1046.3L1796.0,1034.7L1796.6,1027.7L1797.0,1007.3L1797.2,1030.0L1797.7,1038.1L1798.3,1042.8L1798.8,1032.2L1799.0,1048.3L1799.4,1035.5L1800.0,1030.8L1800.0,1011.3L1800.5,1041.1L1801.1,1032.9L1801.7,1039.7L1802.2,1051.2L1802.8,1034.8L1803.0,1021.3L1803.0,1054.3L1803.4,1037.3L1803.9,1026.2L1804.5,1037.9L1805.1,1032.1L1805.6,1045.2L1806.2,1034.5L1806.8,1044.9L1807.0,1019.3L1807.0,1060.3L1807.3,1060.0L1807.9,1031.8L1808.5,1047.2L1809.0,1033.0L1809.6,1012.3L1810.1,1015.6L1810.7,1041.7L1811.0,997.3L1811.3,1058.9L1811.8,1048.9L1812.0,1074.3L1812.4,1044.1L1813.0,1055.0L1813.5,1037.0L1814.1,1045.3L1814.7,1043.3L1815.2,1017.7L1815.8,1033.3L1816.0,1019.3L1816.4,1029.7L1816.9,1043.6L1817.0,1052.3L1817.5,1045.2L1818.1,1046.3L1818.6,1026.3L1819.2,1020.1L1819.8,1037.3L1820.0,1007.3L1820.3,1020.7L1820.9,1038.1L1821.0,1054.3L1821.4,1040.3L1822.0,1011.5L1822.6,1030.4L1823.1,1030.8L1823.7,1033.5L1824.0,1005.3L1824.3,1026.2L1824.8,1039.3L1825.0,1054.3L1825.4,1025.3L1826.0,1049.5L1826.5,1028.2L1827.1,1019.1L1827.7,1032.5L1828.0,1011.3L1828.2,1051.6L1828.8,1044.3L1829.0,1052.3L1829.4,1026.9L1829.9,1036.6L1830.5,1035.9L1831.0,1007.3L1831.1,1016.3L1831.6,1014.8L1832.2,1039.0L1832.7,1023.4L1833.0,1052.3L1833.3,1034.4L1833.9,1031.5L1834.4,1012.5L1835.0,1011.3L1835.0,1026.7L1835.6,1035.9L1836.0,1060.3L1836.1,1038.8L1836.7,1028.4L1837.3,1033.3L1837.8,1040.9L1838.4,1054.8L1839.0,1019.3L1839.0,1068.3L1839.0,1042.7L1839.5,1055.8L1840.1,1024.5L1840.7,1027.9L1841.2,1034.8L1841.8,1034.0L1842.0,1017.3L1842.0,1062.3L1842.4,1049.1L1842.9,1026.5L1843.5,1031.1L1844.0,1049.0L1844.6,1030.2L1845.2,1023.2L1845.7,1043.4L1845.9,1021.3L1845.9,1050.3L1846.3,1032.6L1846.9,1029.5L1847.4,1027.8L1848.0,1041.2L1848.6,1031.0L1849.1,1036.1L1849.7,1031.8L1849.9,1046.3L1850.3,1033.4L1850.8,1030.2L1850.9,1023.3L1851.4,1024.1L1852.0,1040.0L1852.5,1022.9L1853.1,1025.1L1853.7,1026.4L1853.9,1005.3L1853.9,1042.3L1854.2,1016.0L1854.8,1016.1L1855.3,1040.6L1855.9,1015.1L1856.5,1016.3L1857.0,1025.6L1857.6,1024.0L1857.9,1001.3L1857.9,1042.3L1858.2,1036.9L1858.7,1013.6L1859.3,1013.3L1859.9,1027.9L1860.4,1030.6L1860.9,1001.3L1860.9,1038.3L1861.0,1015.1L1861.6,1014.8L1862.1,999.3L1862.7,1018.5L1863.3,1009.0L1863.8,1007.3L1863.9,1034.3L1864.4,1010.8L1864.9,965.4L1865.0,980.9L1865.5,997.4L1866.1,1021.4L1866.6,1010.1L1867.2,1008.0L1867.8,1016.4L1867.9,1038.3L1868.3,998.6L1868.9,1025.3L1868.9,1003.3L1869.5,1027.3L1870.0,1034.8L1870.6,1030.7L1871.2,1034.2L1871.7,1032.7L1871.9,1003.3L1871.9,1042.3L1872.3,1017.1L1872.9,1018.9L1873.4,1020.0L1874.0,1018.1L1874.6,1017.2L1875.1,1020.2L1875.7,1018.3L1875.9,997.3L1875.9,1046.3L1876.3,1017.4L1876.8,1034.1L1877.4,1030.3L1877.9,1027.8L1878.5,1021.5L1878.9,1001.3L1879.1,1017.7L1879.6,1037.5L1879.9,1048.3L1880.2,1031.3L1880.8,1020.4L1881.3,1021.5L1881.9,1031.7L1881.9,1009.3L1882.5,1028.7L1882.9,1050.3L1883.0,1030.8L1883.6,1037.8L1884.2,1038.4L1884.7,1018.9L1885.3,1020.7L1885.9,1043.7L1885.9,1013.3L1885.9,1054.3L1886.4,1046.9L1887.0,1034.5L1887.6,1022.5L1888.1,1044.7L1888.7,1030.9L1889.2,1028.8L1889.8,1046.3L1890.4,1048.5L1890.9,1013.3L1890.9,1030.9L1891.5,1039.4L1891.9,1054.3L1892.1,1018.9L1892.6,1037.1L1893.2,1036.5L1893.8,1049.1L1894.3,1022.8L1894.9,1035.0L1894.9,1007.3L1895.5,1032.1L1896.0,1027.7L1896.6,1028.1L1896.9,1056.3L1897.2,1017.5L1897.7,1017.3L1897.9,1007.3L1898.3,1037.3L1898.9,1035.6L1899.4,1031.9L1900.0,1030.3L1900.5,1037.0L1901.1,1042.3L1901.7,1045.9L1901.9,1017.3L1901.9,1068.3L1902.2,1046.2L1902.8,1025.3L1903.4,1039.3L1903.9,1041.6L1904.5,1022.5L1905.1,1030.7L1905.6,1041.6L1905.9,1013.3L1906.2,1037.0L1906.8,1036.0L1906.9,1054.3L1907.3,1030.4L1907.9,1021.8L1908.5,1046.3L1909.0,1034.7L1909.6,1043.4L1909.9,1013.3L1910.2,1023.0L1910.7,1032.7L1911.3,1047.6L1911.8,1036.6L1911.9,1054.3L1912.4,1037.3L1912.9,1025.3L1913.0,1040.0L1913.5,1046.2L1914.1,1033.7L1914.7,1029.1L1915.2,1028.8L1915.8,1037.6L1915.9,1054.3L1916.4,1038.1L1916.9,1044.9L1917.5,1044.6L1917.9,1027.3L1918.1,1043.0L1918.6,1047.0L1919.2,1045.0L1919.8,1038.1L1919.9,1062.3L1920.3,1046.7L1920.9,1031.2L1921.5,1048.3L1921.9,1023.3L1922.0,1037.5L1922.6,1038.9L1923.1,1044.3L1923.7,1036.6L1923.9,1058.3L1924.3,1045.9L1924.8,1032.7L1925.4,1044.5L1925.9,1023.3L1926.0,1036.5L1926.5,1038.5L1927.1,1041.7L1927.7,1038.5L1927.9,1050.3L1928.2,1026.7L1928.8,1045.9L1929.4,1039.6L1929.9,1023.3L1929.9,1032.7L1930.5,1035.2L1931.1,1037.5L1931.6,1035.6L1931.9,1052.3L1932.2,1036.3L1932.8,1037.5L1933.3,1036.3L1933.9,1042.9L1933.9,1027.3L1934.4,1032.1L1935.0,1044.1L1935.6,1047.0L1936.1,1034.6L1936.7,1044.2L1937.3,1045.1L1937.8,1032.1L1937.9,1062.3L1938.4,1055.9L1938.9,1007.3L1939.0,1027.4L1939.5,1023.8L1940.1,1055.5L1940.7,1031.5L1941.2,1031.5L1941.8,1038.7L1942.4,1027.2L1942.9,1005.3L1942.9,1035.1L1943.5,1033.0L1943.9,1050.3L1944.1,1028.6L1944.6,1032.4L1945.2,1011.2L1945.7,1005.3L1946.3,1019.5L1946.9,1011.8L1947.4,1030.1L1947.9,999.3L1947.9,1050.3L1948.0,1044.4L1948.6,1034.7L1949.1,1024.3L1949.7,1041.3L1950.3,1018.8L1950.8,1019.2L1951.4,1022.4L1951.9,1046.3L1952.0,1016.7L1952.4,985.4L1952.5,1021.4L1953.1,1025.1L1953.7,1023.9L1954.2,1021.8L1954.8,1024.7L1955.4,1026.5L1955.9,1050.3L1955.9,1011.9L1956.5,1036.0L1956.9,1005.3L1957.0,1030.9L1957.6,1028.2L1957.9,1058.3L1958.2,1049.7L1958.7,1028.3L1959.3,1040.6L1959.9,1041.9L1959.9,1023.3L1960.4,1035.2L1961.0,1047.6L1961.6,1046.0L1961.9,1058.3L1962.1,1039.4L1962.7,1043.7L1963.3,1029.8L1963.8,1042.9L1963.9,1023.3L1964.4,1040.0L1965.0,1034.8L1965.5,1037.3L1965.9,1058.3L1966.1,1042.1L1966.7,1042.6L1967.2,1035.5L1967.8,1040.0L1967.9,1023.3L1968.3,1047.8L1968.9,1044.1L1969.5,1036.6L1969.9,1050.3L1970.0,1035.8L1970.6,1023.9L1971.2,1025.0L1971.7,1031.4L1971.9,1011.3L1972.3,1019.5L1972.9,1021.9L1972.9,1046.3L1973.4,1018.6L1974.0,1024.3L1974.6,1032.3L1975.1,1021.7L1975.7,1001.0L1975.9,1050.3L1976.3,1031.6L1976.4,991.3L1976.8,1016.5L1977.4,1028.8L1978.0,1027.8L1978.5,1037.4L1978.9,1058.3L1979.1,1030.8L1979.6,1030.3L1979.9,1015.3L1980.2,1034.3L1980.8,1045.0L1981.3,1036.1L1981.9,1035.3L1982.5,1017.5L1982.9,1068.3L1983.0,1016.4L1983.6,1027.3L1983.9,1003.3L1984.2,1027.1L1984.7,1038.9L1985.3,1028.5L1985.9,1010.2L1985.9,1062.3L1986.4,1015.7L1987.0,1043.6L1987.6,1034.8L1987.9,1003.3L1988.1,1023.5L1988.7,1035.9L1988.9,1050.3L1989.3,1021.6L1989.8,1028.7L1990.4,1027.6L1990.9,1009.3L1990.9,1032.8L1991.5,1034.4L1992.1,1020.4L1992.6,1033.5L1992.9,1046.3L1993.2,1032.0L1993.8,1028.7L1994.3,1024.5L1994.9,1009.3L1994.9,1027.3L1995.5,1033.0L1996.0,1027.9L1996.6,1033.1L1996.9,1007.3L1996.9,1048.3L1997.2,1034.7L1997.7,1017.4L1998.3,1038.9L1998.9,1027.5L1999.4,1038.0L1999.9,1011.3L2000.0,1021.5L2000.6,1032.9L2000.9,1054.3L2001.1,1026.6L2001.7,1037.6L2002.2,1041.8L2002.8,1047.5L2002.9,1027.3L2003.4,1040.5L2003.9,1043.4L2004.5,1039.9L2004.9,1060.3L2005.1,1037.2L2005.6,1044.1L2006.2,1038.6L2006.8,1045.0L2007.3,1056.9L2007.9,1029.3L2007.9,1043.7L2008.4,1074.3L2008.5,1058.2L2009.0,1061.0L2009.6,1053.0L2010.2,1037.7L2010.7,1039.4L2011.3,1048.7L2011.8,1031.3L2011.9,1049.7L2012.4,1037.0L2012.8,1058.3L2013.0,1043.5L2013.5,1055.9L2014.1,1040.7L2014.7,1035.2L2015.2,1048.6L2015.8,1041.1L2015.8,1027.3L2016.4,1037.7L2016.8,1058.3L2016.9,1040.7L2017.5,1038.9L2018.1,1024.4L2018.6,1026.6L2019.2,1014.5L2019.8,1015.2L2019.8,1007.3L2020.3,1014.1L2020.8,1056.3L2020.9,1023.0L2021.5,1036.4L2022.0,1017.9L2022.6,1026.3L2023.2,1024.5L2023.7,1035.0L2023.8,1005.3L2024.3,1036.1L2024.8,1046.3L2024.8,1007.2L2025.4,1030.5L2026.0,1023.8L2026.5,1016.2L2027.1,1016.3L2027.7,1019.4L2028.2,1019.5L2028.8,1018.2L2028.8,997.3L2028.8,1044.3L2029.4,1014.9L2029.9,1013.0L2030.5,1028.0L2031.1,1018.0L2031.6,1027.9L2031.8,999.3L2032.2,1046.3L2032.8,1048.7L2032.8,1050.3L2033.3,1031.6L2033.9,1028.8L2034.5,1044.0L2034.8,1021.3L2035.0,1040.4L2035.6,1034.1L2036.1,1026.8L2036.7,1031.7L2036.8,1048.3L2037.3,1036.6L2037.8,1030.4L2038.4,1027.7L2038.8,1019.3L2039.0,1038.0L2039.5,1022.6L2040.1,1037.8L2040.7,1030.1L2040.8,1046.3L2041.2,1039.0L2041.8,1034.0L2042.4,1034.8L2042.9,1035.9L2043.5,1045.2L2043.8,1019.3L2044.1,1041.4L2044.6,1035.9L2044.8,1050.3L2045.2,1041.8L2045.8,1046.4L2046.3,1036.7L2046.9,1038.2L2047.4,1029.4L2048.0,1043.5L2048.6,1041.4L2048.8,1019.3L2048.8,1048.3L2049.1,1023.6L2049.7,1029.5L2050.3,1023.7L2050.8,1029.4L2051.4,1031.7L2052.0,1032.6L2052.5,1022.6L2052.8,1013.3L2052.8,1044.3L2053.1,1020.1L2053.7,1027.1L2054.2,1028.8L2054.8,1022.5L2055.4,1034.6L2055.8,1019.3L2055.9,1023.0L2056.5,1030.0L2056.8,1046.3L2057.1,1033.8L2057.6,1026.0L2058.2,1037.5L2058.7,1045.5L2059.3,1032.2L2059.8,1017.3L2059.9,1028.4L2060.4,1040.3L2060.8,1048.3L2061.0,1037.8L2061.6,1026.2L2062.1,1025.1L2062.7,1028.5L2063.3,1035.8L2063.8,1011.3L2063.8,1033.1L2064.4,1041.6L2064.8,1046.3L2065.0,1024.9L2065.5,1032.3L2066.1,1013.2L2066.7,1039.0L2066.8,1001.3L2067.2,1031.6L2067.8,1041.2L2068.4,1023.0L2068.8,1048.3L2068.9,1027.2L2069.5,1019.9L2070.0,1028.4L2070.6,1041.9L2070.8,1003.3L2071.2,1010.2L2071.7,1025.0L2072.3,1054.7L2072.9,1037.3L2073.3,1058.3L2073.4,1026.3L2073.8,1005.3L2074.0,1034.2L2074.6,1017.4L2075.1,1015.6L2075.7,1034.9L2076.3,1031.0L2076.8,1001.3L2076.8,1031.8L2077.4,1017.5L2077.8,1042.3L2078.0,1026.6L2078.5,1033.7L2078.8,1023.3L2079.1,1033.4L2079.7,1037.1L2080.2,1028.2L2080.8,1026.4L2081.3,1040.4L2081.8,1025.3L2081.8,1050.3L2081.9,1046.4L2082.5,1044.2L2083.0,1031.6L2083.6,1032.1L2084.2,1032.5L2084.7,1037.0L2084.8,1017.3L2084.8,1060.3L2085.3,1036.6L2085.9,1035.2L2086.4,1047.4L2087.0,1032.7L2087.6,1057.2L2087.8,1017.3L2088.1,1035.0L2088.7,1050.9L2088.8,1060.3L2089.3,1043.8L2089.8,1053.6L2090.4,1037.1L2090.8,1023.3L2091.0,1035.1L2091.5,1046.9L2092.1,1040.2L2092.6,1048.5L2092.8,1054.3L2093.2,1045.7L2093.8,1040.0L2093.8,1035.3" fill="none" stroke="#ff0000" stroke-width="5.0" stroke-linejoin="round" stroke-linecap="round"/>
<path d="M414.5,905.0L416.5,760.0L418.0,710.0L419.7,698.0L421.3,710.0L422.6,760.0L424.3,905.0Z" fill="#ff0000" stroke="#ff0000" stroke-width="1"/>
<path d="M413.8,900.0L416.3,760.0L418.0,705.0L419.7,692.0L421.4,705.0L422.8,760.0L425.0,900.0M772.0,900.0L773.0,850.0L774.0,733.0L775.5,500.0L776.5,300.0L777.2,297.0L778.2,300.0L779.2,500.0L780.0,733.0L781.0,850.0L782.0,900.0" fill="none" stroke="#ff0000" stroke-width="5.8" stroke-linejoin="round" stroke-linecap="round"/>
<path d="M392.0,1463.9L392.0,1463.9L392.0,1463.9L392.6,1462.7L393.1,1463.7L393.7,1461.4L394.0,1448.4L394.0,1471.4L394.3,1456.3L394.8,1465.3L395.4,1452.2L396.0,1458.8L396.5,1456.5L397.0,1445.4L397.0,1475.4L397.1,1475.3L397.6,1468.2L398.2,1450.7L398.8,1460.6L399.3,1459.1L399.9,1462.4L400.0,1450.4L400.5,1485.7L400.5,1504.3L401.0,1482.9L401.6,1483.2L402.2,1474.9L402.7,1498.7L403.3,1490.2L403.9,1475.5L404.0,1468.4L404.4,1470.6L405.0,1493.3L405.0,1480.0L405.6,1479.1L406.1,1488.1L406.7,1453.9L407.0,1447.4L407.3,1477.0L407.8,1476.3L408.0,1489.3L408.4,1461.6L408.9,1469.1L409.5,1455.1L410.0,1445.4L410.1,1484.2L410.6,1442.2L411.0,1491.3L411.2,1424.9L411.8,1448.1L412.0,1402.4L412.3,1445.0L412.9,1437.2L413.5,1425.3L414.0,1491.3L414.0,1407.3L414.6,1398.5L415.0,1364.4L415.2,1472.9L415.4,1324.4L415.7,1420.9L416.0,1487.3L416.3,1367.1L416.9,1418.4L417.0,1447.4L417.4,1386.8L418.0,1312.5L418.0,1343.9L418.6,1385.5L419.1,1336.6L419.7,1356.3L420.0,1443.4L420.2,1368.3L420.8,1368.8L421.4,1414.7L421.9,1417.8L422.0,1311.5L422.0,1459.4L422.5,1338.1L423.1,1442.2L423.6,1349.4L424.0,1318.4L424.2,1443.1L424.8,1416.3L425.0,1356.4L425.0,1467.4L425.3,1449.1L425.9,1429.5L426.0,1414.4L426.5,1455.2L427.0,1505.3L427.0,1457.7L427.6,1464.4L428.2,1456.2L428.7,1456.9L429.0,1416.4L429.3,1431.5L429.9,1482.8L430.0,1508.3L430.4,1462.0L431.0,1472.3L431.5,1442.4L432.0,1434.4L432.1,1451.3L432.7,1448.7L433.0,1503.3L433.2,1449.7L433.8,1463.1L434.0,1416.4L434.4,1469.2L434.9,1451.6L435.0,1471.4L435.5,1420.5L436.1,1441.0L436.6,1461.0L437.2,1432.9L437.8,1447.8L438.0,1414.4L438.0,1469.4L438.3,1451.1L438.9,1432.0L439.5,1461.8L440.0,1456.9L440.6,1465.8L441.0,1475.4L441.2,1446.1L441.7,1469.1L442.3,1452.0L442.8,1459.5L443.0,1414.4L443.4,1445.4L444.0,1450.9L444.5,1433.6L445.0,1406.4L445.0,1479.3L445.1,1475.0L445.7,1448.1L446.2,1456.3L446.8,1455.7L447.4,1439.5L447.9,1432.3L448.5,1436.0L449.0,1408.4L449.0,1487.3L449.1,1455.9L449.6,1470.3L450.2,1428.2L450.8,1455.0L451.0,1487.3L451.3,1441.3L451.9,1493.1L452.0,1434.4L452.5,1492.1L453.0,1535.3L453.0,1479.8L453.6,1456.7L454.0,1416.4L454.1,1521.7L454.7,1494.9L455.0,1541.3L455.3,1472.3L455.8,1455.3L456.4,1519.2L457.0,1516.8L457.5,1443.1L458.0,1535.3L458.1,1458.5L458.7,1449.3L459.0,1416.4L459.0,1515.3L459.2,1474.0L459.8,1480.1L460.4,1494.5L460.9,1457.0L461.0,1454.4L461.5,1487.0L462.1,1499.7L462.6,1500.6L463.0,1490.3L463.2,1492.2L463.8,1495.9L464.0,1513.3L464.3,1503.0L464.9,1492.7L465.0,1490.3L465.4,1493.6L466.0,1443.4L466.0,1491.0L466.6,1509.8L467.0,1519.3L467.1,1476.7L467.7,1467.7L468.3,1461.0L468.8,1476.1L468.9,1517.3L469.4,1464.2L470.0,1481.3L470.5,1481.8L470.9,1442.4L470.9,1495.3L471.1,1474.1L471.7,1470.0L472.2,1489.2L472.8,1460.6L473.4,1488.5L473.9,1472.7L473.9,1503.3L474.5,1496.9L474.9,1446.4L475.1,1491.0L475.6,1471.0L476.2,1497.9L476.7,1490.7L476.9,1424.4L477.3,1479.9L477.4,1525.3L477.9,1520.8L478.4,1486.9L479.0,1479.8L479.6,1476.3L480.1,1443.3L480.7,1476.7L480.9,1418.4L480.9,1505.3L481.3,1440.1L481.8,1454.6L482.4,1457.9L483.0,1463.5L483.5,1424.9L483.9,1501.3L484.1,1465.3L484.7,1470.9L484.9,1408.4L485.2,1460.3L485.8,1440.1L485.9,1469.4L486.4,1429.0L486.9,1437.5L487.5,1442.2L487.9,1400.4L488.0,1450.8L488.6,1426.1L488.9,1473.4L489.2,1465.1L489.7,1441.9L490.3,1459.7L490.9,1434.0L490.9,1404.4L490.9,1481.3L491.4,1445.1L492.0,1430.9L492.6,1463.3L493.1,1453.6L493.7,1449.2L493.9,1412.4L494.3,1439.9L494.8,1448.0L494.9,1483.3L495.4,1480.3L496.0,1444.6L496.5,1440.6L496.9,1424.4L497.1,1478.7L497.7,1451.0L497.9,1489.3L498.2,1452.7L498.8,1461.3L499.3,1454.6L499.9,1444.4L500.5,1462.8L500.9,1434.4L500.9,1492.3L501.0,1462.8L501.6,1459.8L502.2,1455.6L502.7,1452.5L502.9,1442.4L503.3,1464.3L503.9,1458.4L504.4,1454.1L504.9,1434.4L504.9,1487.3L505.0,1456.1L505.6,1461.6L506.1,1466.8L506.7,1452.4L507.3,1463.7L507.8,1449.8L507.9,1408.4L507.9,1475.4L508.4,1447.9L509.0,1444.7L509.5,1434.5L509.9,1390.4L510.1,1430.0L510.6,1404.4L510.9,1471.4L511.2,1440.4L511.8,1425.9L512.3,1432.0L512.9,1396.7L513.5,1450.3L514.0,1429.4L514.6,1435.5L514.9,1386.4L514.9,1463.4L515.2,1426.8L515.7,1391.9L515.9,1427.4L516.3,1388.0L516.9,1406.3L516.9,1384.4L517.4,1383.1L517.9,1336.4L517.9,1423.4L518.0,1353.2L518.6,1415.1L519.1,1378.5L519.7,1377.0L520.3,1385.5L520.8,1364.8L520.9,1328.4L520.9,1419.4L521.4,1340.2L521.9,1268.5L521.9,1343.4L521.9,1291.4L522.5,1324.5L523.1,1289.0L523.6,1306.1L524.2,1275.6L524.8,1280.2L524.9,1260.5L524.9,1333.4M541.9,1455.7L541.9,1418.4L542.5,1458.1L542.9,1473.4L543.0,1448.7L543.6,1451.8L544.2,1469.8L544.7,1455.9L544.9,1428.4L545.3,1465.2L545.9,1459.0L545.9,1477.4L546.4,1472.8L547.0,1466.4L547.6,1460.5L548.1,1452.9L548.7,1454.2L548.9,1436.4L548.9,1481.3L549.3,1445.3L549.8,1466.6L550.4,1465.8L550.9,1463.0L551.5,1469.2L551.9,1487.3L552.1,1463.7L552.6,1482.4L552.9,1444.4L553.2,1480.8L553.8,1472.9L554.3,1483.9L554.9,1456.4L554.9,1501.3L554.9,1471.2L555.5,1461.9L556.0,1467.2L556.6,1483.1L557.2,1481.0L557.7,1492.5L558.3,1495.2L558.9,1477.6L558.9,1456.4L558.9,1504.3L559.4,1487.9L560.0,1477.0L560.6,1466.5L561.1,1465.6L561.7,1464.1L561.9,1444.4L561.9,1501.3L562.2,1481.8L562.8,1473.0L563.4,1459.4L563.9,1489.3L563.9,1471.2L564.5,1465.8L564.9,1442.4L565.1,1449.6L565.6,1449.1L566.2,1463.2L566.8,1471.5L566.9,1487.3L567.3,1461.6L567.9,1491.7L568.5,1469.3L569.0,1469.0L569.6,1479.9L569.9,1505.3L570.2,1488.9L570.7,1481.0L570.9,1443.4L571.3,1500.9L571.9,1467.2L572.4,1479.4L573.0,1453.3L573.5,1466.7L573.9,1511.3L574.1,1482.2L574.7,1469.7L574.9,1446.4L575.2,1479.7L575.8,1490.3L576.4,1510.6L576.9,1452.4L576.9,1512.3L576.9,1481.5L577.5,1482.0L578.1,1491.0L578.6,1473.4L579.2,1484.7L579.8,1483.1L579.9,1466.4L579.9,1493.3L580.3,1478.7L580.9,1481.8L581.5,1487.8L582.0,1467.8L582.6,1474.1L582.9,1487.3L583.2,1475.3L583.7,1475.7L584.3,1480.1L584.8,1490.7L584.9,1507.3L585.4,1485.5L586.0,1480.0L586.5,1506.0L586.9,1467.4L587.1,1471.9L587.7,1506.2L587.9,1523.3L588.2,1493.4L588.8,1483.7L589.4,1498.4L589.9,1512.8L590.5,1487.7L590.9,1458.4L591.1,1513.7L591.6,1486.3L592.2,1493.0L592.8,1469.5L592.9,1525.3L593.3,1497.2L593.9,1468.4L593.9,1496.1L594.5,1492.4L595.0,1493.0L595.6,1479.5L596.1,1507.8L596.7,1480.7L596.9,1523.3L597.3,1497.7L597.8,1481.6L598.4,1500.0L599.0,1511.7L599.5,1498.8L599.9,1511.3L600.1,1491.9L600.7,1482.7L600.9,1470.4L601.2,1497.8L601.8,1475.6L602.4,1474.2L602.9,1462.4L602.9,1487.3L602.9,1472.4L603.5,1474.4L604.1,1487.8L604.6,1493.3L604.9,1509.3L605.2,1484.4L605.8,1489.9L606.3,1475.2L606.9,1462.4L606.9,1489.0L607.4,1501.7L608.0,1485.4L608.6,1496.7L608.9,1468.4L608.9,1511.3L609.1,1472.0L609.7,1503.6L610.3,1484.3L610.8,1488.0L611.4,1488.3L612.0,1490.3L612.5,1496.6L612.9,1470.4L612.9,1511.3L613.1,1485.2L613.7,1504.6L614.2,1491.1L614.8,1500.4L615.4,1498.0L615.9,1515.3L615.9,1502.6L616.5,1509.5L616.9,1462.4L617.1,1514.2L617.6,1513.3L617.9,1527.3L618.2,1504.5L618.7,1506.6L619.3,1486.2L619.9,1467.4L619.9,1529.8L620.4,1488.6L620.9,1545.3L621.0,1492.9L621.6,1513.8L622.1,1483.0L622.7,1494.2L623.3,1497.8L623.8,1486.2L623.9,1519.3L624.4,1507.8L624.9,1476.4L625.0,1479.5L625.5,1485.5L626.1,1496.8L626.7,1494.5L627.2,1488.5L627.8,1497.0L627.9,1515.3L628.4,1495.6L628.9,1501.6L629.5,1498.8L629.9,1484.3L630.0,1499.0L630.6,1500.2L630.9,1505.3L631.2,1489.3L631.7,1491.8L632.3,1493.3L632.9,1476.4L632.9,1490.4L633.4,1491.8L634.0,1484.1L634.6,1474.7L634.9,1501.3L635.1,1485.8L635.7,1488.9L636.3,1463.8L636.8,1468.6L636.8,1452.4L637.4,1492.5L637.8,1511.3L638.0,1500.8L638.5,1478.0L639.1,1481.9L639.7,1479.9L640.2,1502.7L640.8,1469.2L640.8,1511.3L641.3,1481.4L641.8,1462.4L641.9,1484.8L642.5,1497.8L643.0,1486.8L643.6,1486.5L643.8,1507.3L644.2,1480.2L644.7,1480.5L645.3,1481.1L645.3,1446.4L645.9,1480.4L646.4,1470.9L646.8,1515.3L647.0,1465.7L647.6,1491.7L648.1,1489.2L648.7,1475.5L648.8,1462.4L649.3,1503.1L649.8,1506.4L650.4,1485.8L650.8,1482.4L650.8,1519.3L651.0,1500.1L651.5,1502.6L652.1,1503.4L652.6,1504.6L653.2,1503.3L653.8,1504.5L653.8,1480.4L653.8,1533.3L654.3,1495.3L654.9,1505.3L655.5,1485.5L656.0,1502.2L656.6,1515.3L656.8,1464.4L656.8,1531.3L657.2,1499.4L657.7,1494.4L658.3,1471.5L658.9,1508.7L659.4,1482.1L660.0,1509.0L660.0,1527.3L660.6,1473.1L661.1,1471.8L661.6,1462.4L661.7,1478.4L662.3,1507.7L662.4,1464.4L662.8,1503.5L663.0,1529.3L663.4,1515.7L663.9,1494.4L664.5,1491.3L665.0,1488.3L665.0,1515.3L665.1,1502.7L665.6,1511.6L666.2,1500.0L666.8,1474.0L667.3,1486.8L667.9,1466.3L668.5,1491.0L668.5,1442.4L669.0,1517.3L669.0,1496.8L669.6,1479.6L670.2,1500.0L670.7,1480.2L671.3,1481.9L671.9,1505.9L672.0,1454.4L672.4,1509.4L673.0,1498.9L673.0,1525.3L673.6,1492.3L674.1,1482.7L674.7,1509.2L675.0,1482.4L675.2,1510.6L675.8,1503.2L676.4,1510.2L676.9,1510.7L677.0,1527.3L677.5,1513.9L678.0,1498.3L678.1,1511.5L678.6,1530.1L679.2,1523.3L679.8,1516.0L680.3,1521.3L680.9,1515.2L681.5,1520.0L681.5,1539.3L682.0,1500.3L682.0,1511.9L682.6,1503.8L683.2,1532.3L683.7,1515.0L684.3,1520.7L684.9,1513.0L685.0,1527.3L685.4,1510.4L686.0,1508.0L686.0,1498.3L686.5,1501.1L687.1,1500.6L687.7,1497.3L688.2,1496.5L688.8,1485.8L689.4,1486.1L689.5,1456.4L689.9,1512.4L690.0,1527.3L690.5,1492.0L691.1,1507.5L691.6,1514.7L692.2,1515.2L692.8,1521.7L693.0,1482.4L693.0,1529.3L693.3,1503.7L693.9,1521.1L694.5,1513.8L695.0,1523.1L695.6,1503.0L696.0,1543.3L696.2,1535.0L696.7,1530.1L697.0,1500.3L697.3,1525.4L697.8,1517.3L698.4,1516.2L699.0,1525.4L699.5,1522.8L700.0,1504.3L700.1,1523.3L700.7,1517.9L701.0,1559.3L701.2,1499.4L701.8,1545.8L702.4,1527.7L702.9,1510.7L703.5,1462.4L703.5,1495.5L704.0,1525.3L704.1,1509.7L704.6,1494.8L705.2,1491.0L705.8,1500.7L706.3,1493.6L706.9,1493.2L707.5,1521.5L708.0,1492.3L708.0,1527.3L708.0,1505.5L708.6,1502.4L709.1,1506.7L709.7,1503.6L710.3,1522.6L710.8,1499.5L711.0,1523.3L711.4,1509.6L712.0,1507.6L712.5,1510.3L713.0,1529.3L713.1,1498.0L713.5,1482.4L713.7,1527.1L714.2,1504.4L714.8,1511.2L715.4,1494.0L715.9,1513.5L716.5,1528.6L717.0,1533.3L717.1,1513.1L717.6,1527.0L718.0,1502.3L718.2,1506.8L718.8,1498.1L719.3,1500.2L719.9,1476.5L720.0,1460.4L720.0,1531.3L720.4,1505.1L721.0,1482.5L721.6,1489.5L722.0,1501.3L722.1,1450.5L722.7,1480.8L723.0,1422.4L723.3,1453.0L723.8,1455.2L724.4,1448.9L725.0,1418.4L725.0,1475.4L725.0,1434.7L725.5,1430.2L726.0,1376.4L726.1,1428.5L726.7,1394.3L727.2,1425.3L727.8,1416.3L728.0,1475.4L728.4,1429.8L728.9,1427.5L729.0,1373.4L729.5,1439.2L730.1,1446.5L730.6,1413.5L731.0,1487.3L731.2,1444.2L731.7,1436.4L732.0,1378.4L732.3,1455.6L732.9,1462.0L733.4,1456.8L734.0,1507.3L734.0,1455.3L734.6,1447.2L735.0,1392.4L735.1,1447.5L735.7,1479.2L736.0,1432.4L736.0,1517.3L736.3,1502.4L736.8,1487.9L737.0,1476.4L737.4,1493.6L738.0,1489.0L738.5,1505.1L739.0,1480.4L739.1,1508.6L739.7,1492.1L740.0,1519.3L740.2,1499.4L740.8,1509.6L741.0,1498.3L741.4,1513.9L741.9,1512.4L742.5,1515.8L743.0,1543.3L743.0,1513.2L743.6,1491.6L743.9,1474.4L744.2,1484.9L744.7,1508.1L744.9,1535.3L745.3,1496.3L745.9,1496.1L746.4,1477.2L746.9,1531.3L747.0,1490.0L747.6,1517.3L748.1,1472.3L748.4,1452.4L748.7,1476.6L749.3,1495.2L749.8,1505.6L750.4,1502.8L750.9,1533.3L751.0,1506.7L751.5,1479.1L751.9,1472.4L752.1,1506.0L752.7,1496.9L753.2,1492.7L753.8,1511.6L753.9,1543.3L754.3,1527.1L754.9,1496.7L754.9,1482.4L755.5,1505.9L756.0,1523.1L756.6,1503.2L756.9,1539.3L757.2,1527.5L757.7,1495.9L757.9,1484.3L758.3,1500.4L758.9,1506.1L759.4,1515.7L759.9,1531.3L760.0,1509.5L760.6,1501.5L760.9,1456.4L761.1,1494.5L761.7,1468.4L762.3,1469.3L762.8,1450.2L762.9,1511.3L763.4,1456.8L763.9,1424.4L764.0,1454.5L764.5,1487.8L765.1,1462.2L765.6,1438.6L766.2,1457.1L766.8,1430.8L766.9,1483.3L767.3,1434.8L767.9,1461.4L767.9,1420.4L768.5,1446.5L769.0,1423.1L769.6,1450.7L769.9,1481.3L770.2,1455.9L770.7,1422.9L770.9,1372.4L771.3,1386.1L771.9,1374.6L771.9,1276.5L772.4,1381.2L772.9,1467.4L773.0,1327.1L773.6,1327.2L774.1,1282.4L774.7,1315.7L775.3,1319.0L775.8,1308.7L775.9,1407.4L776.4,1327.6L776.4,1253.5L776.9,1405.4L776.9,1361.9L777.5,1297.1L778.1,1365.0L778.6,1361.5L778.9,1491.3L779.2,1401.5L779.8,1362.1L779.9,1302.5L780.3,1339.8L780.9,1389.5L781.5,1455.2L781.9,1372.4L782.0,1456.4L782.6,1481.9L782.9,1505.3L783.2,1456.4L783.7,1493.4L783.9,1442.4L784.3,1478.7L784.9,1466.8L785.4,1470.7L786.0,1458.5L786.6,1472.1L786.9,1513.3L787.1,1459.4L787.7,1476.5L787.9,1444.4L788.2,1478.0L788.8,1464.6L789.4,1484.5L789.9,1488.0L790.5,1509.6L790.9,1472.4L791.1,1495.7L791.4,1539.3L791.6,1496.8L792.2,1486.2L792.8,1488.0L793.3,1503.5L793.9,1487.0L793.9,1468.4L794.5,1479.6L795.0,1512.8L795.6,1495.3L795.9,1527.3L796.2,1486.0L796.7,1512.5L797.3,1492.6L797.9,1514.2L797.9,1464.4L798.4,1499.5L799.0,1486.3L799.5,1493.1L799.9,1517.3L800.1,1496.5L800.7,1487.0L801.2,1477.7L801.8,1477.8L801.9,1458.4L802.4,1490.4L802.9,1515.3L802.9,1469.3L803.5,1484.0L804.1,1472.6L804.6,1475.4L804.9,1454.4L805.2,1491.9L805.8,1492.3L805.9,1523.3L806.3,1499.7L806.9,1495.1L807.5,1490.9L808.0,1480.5L808.4,1431.4L808.6,1496.2L809.2,1515.5L809.7,1472.8L809.9,1525.3L810.3,1486.1L810.8,1471.8L811.4,1497.6L811.9,1452.4L812.0,1469.9L812.5,1470.4L813.1,1475.2L813.7,1457.1L813.9,1523.3L814.2,1480.7L814.8,1471.9L815.4,1495.0L815.9,1486.8L816.5,1482.7L817.1,1477.0L817.6,1490.1L817.9,1452.4L817.9,1515.3L818.2,1482.1L818.8,1483.1L819.3,1483.4L819.9,1502.0L820.5,1477.1L820.9,1440.4L821.0,1487.9L821.6,1497.7L821.9,1511.3L822.1,1451.6L822.7,1465.0L822.9,1426.4L823.3,1434.5L823.8,1489.6L824.4,1471.6L825.0,1471.2L825.5,1467.5L825.9,1507.3L826.1,1503.9L826.7,1455.7L826.9,1424.4L827.2,1426.4L827.8,1458.8L828.4,1459.3L828.9,1503.3L828.9,1413.9L829.5,1438.5L830.1,1410.6L830.6,1442.5L830.9,1451.4L831.2,1391.9L831.4,1358.4L831.8,1423.3L832.3,1423.4L832.9,1418.1L833.4,1405.6L833.9,1453.4L834.0,1376.9L834.6,1419.4L835.1,1394.9L835.7,1384.1L835.9,1368.4L836.3,1403.8L836.8,1415.5L836.9,1467.4L837.4,1408.5L838.0,1406.5L838.5,1387.3L838.9,1384.4L839.1,1432.5L839.7,1395.1L839.9,1463.4L840.2,1443.9L840.8,1428.7L841.4,1422.8L841.9,1436.6L842.5,1412.3L842.9,1386.4L842.9,1473.4L843.1,1442.9L843.6,1443.2L844.2,1469.0L844.7,1451.2L844.9,1412.4L845.3,1440.5L845.9,1419.1L846.4,1419.4L846.9,1475.4L847.0,1448.2L847.6,1440.0L847.9,1414.4L848.1,1423.0L848.7,1448.8L849.3,1461.7L849.8,1468.8L849.9,1481.3L850.4,1463.0L850.9,1436.4L851.0,1475.1L851.5,1464.0L852.1,1472.0L852.7,1462.9L852.9,1491.3L853.2,1462.8L853.8,1459.4L853.9,1438.4L854.4,1460.9L854.9,1479.1L855.5,1471.7L856.0,1468.4L856.6,1479.6L856.9,1466.4L856.9,1489.3L857.2,1471.6L857.7,1478.6L858.3,1483.9L858.9,1479.1L859.4,1471.2L859.9,1497.3L860.0,1479.8L860.6,1477.1L860.9,1468.4L861.1,1483.6L861.7,1502.5L862.3,1498.7L862.8,1502.6L863.4,1507.1L864.0,1517.9L864.5,1504.6L864.9,1492.3L865.1,1513.9L865.4,1543.3L865.7,1515.7L866.2,1520.5L866.8,1503.8L867.3,1512.4L867.9,1494.3L867.9,1508.0L868.5,1500.3L868.9,1513.3L869.0,1505.4L869.6,1503.0L870.2,1492.2L870.7,1486.2L870.9,1462.4L871.3,1489.1L871.9,1486.6L871.9,1509.3L872.4,1473.3L873.0,1485.5L873.6,1468.4L874.1,1479.7L874.7,1480.9L875.3,1476.7L875.8,1484.3L875.9,1448.4L875.9,1497.3L876.4,1472.5L877.0,1485.6L877.5,1473.6L878.1,1468.6L878.6,1459.9L878.9,1481.3L879.2,1473.7L879.8,1481.2L879.9,1446.4L880.3,1473.9L880.9,1469.9L881.5,1483.9L882.0,1472.6L882.6,1472.0L883.2,1475.3L883.4,1503.3L883.7,1471.1L883.9,1444.4L884.3,1460.6L884.9,1477.4L885.4,1468.3L886.0,1483.8L886.6,1476.7L887.1,1458.9L887.7,1441.5L887.9,1489.3L888.3,1436.5L888.8,1477.1L888.9,1421.4L889.4,1431.8L889.9,1461.0L890.5,1468.7L891.1,1455.0L891.6,1448.8L891.9,1479.3L892.2,1468.9L892.8,1450.2L893.3,1440.4L893.9,1430.4L893.9,1446.0L894.5,1452.1L894.9,1477.4L895.0,1461.1L895.6,1438.7L896.2,1458.0L896.7,1438.0L897.3,1466.5L897.9,1445.3L898.4,1469.1L898.9,1434.4L898.9,1475.4L899.0,1456.2L899.6,1445.3L900.1,1443.5L900.7,1450.6L901.2,1439.3L901.8,1449.5L902.4,1437.5L902.9,1410.4L902.9,1457.4L902.9,1429.5L903.5,1437.2L904.1,1436.5L904.6,1435.9L905.2,1440.1L905.8,1440.4L905.9,1408.4L906.3,1412.3L906.9,1455.4L906.9,1408.8L907.5,1418.1L907.9,1362.4L907.9,1427.4L908.0,1387.8L908.6,1362.0L908.9,1290.5L909.2,1326.2L909.7,1364.5L909.9,1419.4L910.3,1334.5L910.9,1374.6L911.4,1338.3L911.8,1363.4L912.0,1325.9L912.5,1305.3L912.8,1288.5L913.1,1328.0L913.7,1323.0L914.2,1354.2L914.8,1304.8L914.8,1359.4L915.4,1305.7L915.8,1272.5M969.0,1461.0L969.0,1454.4L969.0,1471.4L969.5,1466.1L970.1,1473.1L970.7,1468.9L971.2,1470.7L971.8,1473.9L972.0,1456.4L972.0,1477.4L972.4,1462.5L972.9,1469.4L973.5,1472.5L974.1,1465.4L974.6,1465.7L975.0,1458.4L975.0,1487.3L975.2,1471.7L975.8,1475.2L976.3,1492.2L976.9,1489.5L977.0,1517.3L977.5,1506.0L978.0,1479.2L978.6,1490.8L979.0,1460.4L979.0,1533.3L979.1,1527.7L979.7,1477.7L980.3,1503.4L980.8,1499.8L981.4,1499.1L982.0,1478.4L982.0,1497.9L982.5,1481.8L983.0,1535.3L983.1,1497.6L983.7,1502.2L984.2,1481.7L984.8,1485.7L985.0,1462.4L985.4,1496.2L985.9,1493.4L986.0,1527.3L986.5,1495.0L987.1,1510.9L987.6,1495.4L988.2,1521.7L988.8,1476.1L989.0,1527.3L989.3,1494.1L989.9,1510.0L990.0,1462.4L990.4,1485.8L991.0,1469.0L991.6,1506.3L992.1,1514.3L992.7,1482.5L993.0,1468.4L993.0,1531.3L993.3,1481.7L993.8,1505.6L994.4,1503.4L995.0,1488.3L995.0,1523.5L995.5,1523.7L996.0,1535.3L996.1,1522.3L996.7,1507.3L997.2,1516.4L997.8,1513.0L998.0,1492.3L998.0,1545.3L998.4,1514.1L998.9,1515.0L999.5,1514.7L1000.0,1553.3L1000.1,1503.7L1000.6,1514.7L1001.2,1489.9L1001.7,1501.7L1002.0,1474.4L1002.3,1504.3L1002.9,1525.5L1003.0,1551.3L1003.4,1501.3L1004.0,1518.2L1004.6,1529.9L1005.0,1504.3L1005.0,1535.3L1005.1,1519.3L1005.7,1514.7L1006.3,1522.9L1006.8,1516.9L1007.4,1524.0L1008.0,1535.3L1008.0,1506.6L1008.5,1513.2L1009.0,1504.3L1009.1,1526.9L1009.7,1529.1L1010.2,1523.8L1010.8,1527.3L1011.0,1551.3L1011.4,1529.4L1011.9,1528.1L1012.0,1498.3L1012.5,1535.8L1013.0,1520.8L1013.6,1517.8L1014.0,1549.3L1014.2,1537.5L1014.7,1519.4L1015.0,1504.3L1015.3,1544.0L1015.9,1512.1L1016.4,1526.9L1017.0,1484.3L1017.0,1555.3L1017.0,1543.4L1017.6,1518.1L1018.1,1526.4L1018.7,1521.6L1018.9,1468.4L1019.3,1510.1L1019.8,1489.2L1019.9,1565.3L1020.4,1506.6L1021.0,1512.9L1021.5,1524.8L1022.1,1477.7L1022.7,1525.5L1022.9,1466.4L1022.9,1559.3L1023.2,1530.6L1023.8,1485.6L1023.9,1539.3L1024.3,1511.9L1024.9,1492.9L1025.5,1468.0L1025.9,1442.4L1026.0,1478.0L1026.6,1511.0L1026.9,1527.3L1027.2,1490.2L1027.7,1487.4L1028.3,1471.0L1028.9,1464.6L1029.4,1453.3L1029.9,1426.4L1029.9,1517.3L1030.0,1450.0L1030.6,1478.2L1031.1,1473.2L1031.7,1484.1L1032.3,1479.9L1032.8,1490.1L1032.9,1515.3L1033.4,1477.7L1033.9,1448.4L1034.0,1481.0L1034.5,1472.9L1035.1,1472.1L1035.6,1477.3L1035.9,1432.4L1036.2,1474.2L1036.8,1493.1L1036.9,1511.3L1037.3,1485.1L1037.9,1459.1L1038.5,1463.2L1038.9,1503.3L1039.0,1473.0L1039.6,1457.8L1040.2,1471.3L1040.7,1448.6L1040.9,1431.4L1041.3,1491.8L1041.9,1463.0L1041.9,1501.3L1042.4,1468.7L1043.0,1460.6L1043.6,1462.3L1043.9,1519.3L1044.1,1491.4L1044.7,1515.5L1044.9,1431.4L1045.3,1482.8L1045.8,1514.9L1046.4,1494.6L1046.9,1446.4L1046.9,1491.1L1047.4,1539.3L1047.5,1462.2L1048.1,1487.1L1048.6,1479.2L1049.2,1484.1L1049.8,1484.2L1049.9,1466.4L1050.3,1492.2L1050.9,1499.6L1051.5,1519.8L1051.9,1527.3L1052.0,1501.9L1052.6,1504.5L1052.9,1468.4L1053.2,1512.4L1053.7,1496.8L1054.3,1495.1L1054.9,1498.6L1054.9,1519.3L1055.4,1487.9L1056.0,1499.3L1056.6,1509.4L1056.9,1472.4L1057.1,1497.2L1057.7,1506.5L1057.9,1527.3L1058.2,1505.9L1058.8,1501.4L1059.4,1510.3L1059.9,1492.3L1059.9,1533.3L1059.9,1506.4L1060.5,1519.2L1061.1,1512.3L1061.6,1508.8L1062.2,1506.8L1062.8,1527.1L1062.9,1496.3L1063.3,1526.5L1063.9,1505.8L1064.5,1507.2L1064.9,1533.3L1065.0,1509.8L1065.6,1504.5L1066.2,1511.9L1066.7,1499.1L1067.3,1507.5L1067.9,1516.0L1067.9,1525.3L1068.4,1492.9L1068.9,1482.4L1069.0,1506.2L1069.5,1527.7L1070.1,1528.3L1070.7,1527.9L1070.9,1533.3L1071.2,1500.0L1071.8,1519.4L1072.4,1519.9L1072.9,1492.3L1072.9,1516.7L1073.5,1529.2L1073.9,1543.3L1074.1,1497.6L1074.6,1539.5L1075.2,1497.1L1075.8,1533.0L1076.3,1523.6L1076.9,1535.1L1076.9,1498.3L1076.9,1545.3L1077.5,1497.8L1078.0,1536.8L1078.6,1522.2L1079.2,1506.4L1079.7,1507.0L1079.9,1486.3L1079.9,1537.3L1080.3,1506.1L1080.8,1503.5L1081.4,1506.6L1082.0,1503.1L1082.5,1483.8L1082.9,1515.3L1083.1,1489.8L1083.7,1496.2L1083.9,1472.4L1084.2,1490.0L1084.8,1485.8L1085.4,1492.1L1085.9,1473.1L1086.5,1476.3L1086.9,1458.4L1087.1,1494.4L1087.6,1490.6L1087.9,1509.3L1088.2,1473.6L1088.8,1458.4L1088.9,1442.4L1089.3,1486.6L1089.9,1461.5L1090.5,1500.7L1090.9,1503.3L1091.0,1448.8L1091.6,1483.4L1091.9,1424.4L1092.1,1463.8L1092.7,1443.9L1093.3,1464.3L1093.8,1459.5L1094.4,1428.9L1094.9,1477.4L1095.0,1423.4L1095.5,1442.2L1096.1,1440.7L1096.4,1400.4L1096.7,1467.7L1097.2,1445.5L1097.8,1432.0L1097.9,1467.4L1098.4,1446.1L1098.9,1440.3L1099.5,1479.4L1099.9,1412.4L1099.9,1503.3L1100.1,1477.8L1100.6,1444.4L1101.2,1481.4L1101.8,1450.2L1101.9,1442.4L1102.3,1462.0L1102.9,1471.3L1102.9,1527.3L1103.4,1481.8L1103.9,1464.4L1104.0,1500.8L1104.6,1508.7L1105.1,1503.1L1105.7,1484.9L1105.9,1533.3L1106.3,1508.5L1106.8,1518.9L1106.9,1484.3L1107.4,1495.6L1108.0,1504.1L1108.5,1526.1L1109.1,1508.0L1109.7,1513.8L1109.9,1531.3L1110.2,1507.6L1110.8,1502.0L1110.9,1478.4L1111.4,1503.5L1111.9,1482.6L1112.5,1494.6L1112.9,1511.3L1113.1,1482.2L1113.6,1495.9L1113.9,1478.4L1114.2,1499.2L1114.7,1492.2L1115.3,1488.4L1115.9,1489.9L1115.9,1517.3L1116.4,1503.4L1116.9,1488.3L1117.0,1507.6L1117.6,1502.0L1118.1,1519.0L1118.7,1511.3L1118.9,1492.3L1119.3,1509.2L1119.8,1518.5L1120.4,1541.3L1120.4,1536.0L1121.0,1516.3L1121.5,1525.8L1121.9,1490.3L1122.1,1500.4L1122.7,1510.2L1123.2,1503.4L1123.8,1513.0L1123.9,1484.3L1124.4,1499.4L1124.9,1527.3L1124.9,1499.0L1125.5,1508.7L1126.0,1490.7L1126.6,1475.5L1127.2,1481.2L1127.7,1484.8L1127.9,1511.3L1128.3,1466.3L1128.4,1446.4L1128.9,1485.4L1129.4,1491.6L1130.0,1469.5L1130.6,1488.2L1130.9,1521.3L1131.1,1509.6L1131.7,1495.7L1131.9,1458.4L1132.3,1491.1L1132.8,1511.5L1133.4,1499.1L1133.9,1476.4L1134.0,1506.3L1134.5,1500.3L1135.1,1490.4L1135.7,1524.0L1136.2,1532.2L1136.4,1535.3L1136.8,1521.4L1136.9,1484.3L1137.3,1521.8L1137.9,1508.9L1138.5,1512.0L1139.0,1512.9L1139.6,1501.1L1140.2,1512.1L1140.7,1518.2L1140.9,1494.3L1141.3,1517.9L1141.9,1503.4L1141.9,1523.3L1142.4,1508.5L1143.0,1509.6L1143.6,1503.7L1144.1,1519.5L1144.7,1499.7L1144.9,1484.3L1145.3,1500.1L1145.8,1517.7L1145.9,1525.3L1146.4,1520.5L1146.9,1482.4L1147.0,1519.6L1147.5,1512.0L1148.1,1502.9L1148.6,1487.8L1149.2,1514.2L1149.8,1529.2L1150.3,1524.0L1150.4,1551.3L1150.9,1482.4L1150.9,1502.2L1151.5,1509.9L1152.0,1534.9L1152.6,1522.0L1153.2,1519.3L1153.7,1529.5L1154.3,1533.1L1154.9,1499.8L1154.9,1482.4L1154.9,1539.3L1155.4,1510.9L1156.0,1507.8L1156.6,1510.3L1157.1,1509.8L1157.7,1505.2L1157.9,1529.3L1158.3,1502.0L1158.8,1494.6L1158.9,1492.3L1159.4,1510.3L1159.9,1525.8L1160.5,1510.2L1161.1,1508.3L1161.6,1517.4L1161.9,1539.3L1162.2,1519.1L1162.8,1524.9L1162.9,1492.3L1163.3,1532.6L1163.9,1522.8L1164.5,1534.0L1165.0,1512.8L1165.6,1516.4L1166.2,1513.7L1166.4,1551.3L1166.7,1521.8L1167.3,1522.5L1167.9,1531.3L1167.9,1494.3L1168.4,1523.9L1169.0,1508.0L1169.6,1528.3L1170.1,1516.5L1170.7,1503.3L1170.9,1496.3L1170.9,1537.3L1171.2,1519.0L1171.8,1506.4L1172.4,1521.1L1172.9,1514.9L1173.5,1519.1L1173.9,1492.3L1174.1,1506.8L1174.6,1492.2L1174.9,1531.3L1175.2,1496.4L1175.8,1493.4L1176.3,1493.9L1176.9,1476.4L1176.9,1525.1L1177.5,1504.9L1178.0,1510.6L1178.6,1486.2L1178.9,1529.3L1179.2,1503.7L1179.7,1498.1L1180.3,1506.9L1180.9,1472.4L1180.9,1499.6L1181.4,1501.5L1182.0,1491.8L1182.5,1490.3L1182.9,1519.3L1183.1,1496.2L1183.7,1497.1L1184.2,1493.4L1184.8,1503.2L1185.4,1501.6L1185.8,1470.4L1185.9,1513.5L1186.5,1495.8L1186.8,1519.3L1187.1,1494.5L1187.6,1512.3L1188.2,1503.1L1188.8,1496.2L1189.3,1493.4L1189.8,1527.3L1189.9,1511.1L1190.3,1458.4L1190.5,1495.1L1191.0,1475.1L1191.6,1496.2L1192.2,1491.1L1192.7,1509.9L1192.8,1529.3L1193.3,1501.8L1193.8,1488.6L1194.4,1519.4L1194.8,1472.4L1195.0,1500.7L1195.5,1515.3L1196.1,1512.2L1196.7,1504.4L1196.8,1482.4L1196.8,1529.3L1197.2,1509.4L1197.8,1511.5L1198.4,1512.7L1198.9,1527.9L1199.5,1509.6L1199.8,1490.3L1200.1,1515.4L1200.6,1511.0L1200.8,1541.3L1201.2,1531.0L1201.8,1520.6L1202.3,1508.3L1202.9,1521.8L1203.5,1534.4L1203.8,1496.3L1204.0,1535.5L1204.6,1526.3L1204.8,1549.3L1205.1,1508.9L1205.7,1534.6L1206.3,1531.1L1206.8,1518.3L1207.4,1517.7L1208.0,1529.3L1208.5,1517.6L1208.8,1508.3L1208.8,1551.3L1209.1,1548.1L1209.7,1520.4L1210.0,1512.4L1210.0,1555.3L1210.2,1517.3L1210.8,1548.4L1211.4,1532.5L1211.9,1533.5L1212.5,1558.5L1213.1,1541.6L1213.6,1546.5L1214.0,1520.4L1214.2,1549.7L1214.5,1575.3L1214.8,1541.3L1215.3,1552.1L1215.9,1548.5L1216.4,1547.5L1217.0,1537.6L1217.6,1542.0L1218.1,1533.9L1218.7,1541.3L1219.0,1518.4L1219.0,1553.3L1219.3,1546.2L1219.8,1528.4L1220.4,1535.2L1221.0,1548.3L1221.5,1530.9L1222.0,1551.3L1222.1,1536.7L1222.7,1535.2L1223.0,1524.4L1223.2,1539.4L1223.8,1545.0L1224.4,1529.6L1224.9,1552.8L1225.0,1565.3L1225.5,1556.2L1226.1,1533.5L1226.6,1544.6L1227.2,1540.8L1227.7,1558.1L1228.0,1534.4L1228.3,1548.4L1228.9,1549.7L1229.0,1571.3L1229.4,1546.3L1230.0,1542.3L1230.6,1537.1L1231.0,1532.4L1231.0,1563.3L1231.1,1545.5L1231.7,1534.2L1232.3,1546.2L1232.8,1535.1L1233.4,1545.9L1234.0,1536.9L1234.0,1514.4L1234.0,1549.3L1234.5,1534.8L1235.1,1527.3L1235.7,1529.8L1236.2,1530.9L1236.8,1542.0L1237.0,1510.4L1237.4,1515.4L1237.9,1517.6L1238.0,1547.4L1238.5,1538.6L1239.0,1522.3L1239.6,1548.0L1240.0,1514.4L1240.2,1543.4L1240.7,1542.3L1241.0,1559.3L1241.3,1539.3L1241.9,1557.5L1242.0,1524.4L1242.4,1555.5L1243.0,1527.3L1243.6,1550.5L1244.1,1535.2L1244.7,1546.9L1245.0,1514.4L1245.0,1561.3L1245.3,1539.2L1245.8,1537.4L1246.4,1526.2L1247.0,1530.8L1247.5,1547.5L1248.1,1540.1L1248.7,1539.2L1249.0,1557.3L1249.2,1526.8L1249.8,1546.8L1250.0,1512.4L1250.3,1525.3L1250.9,1528.2L1251.5,1534.2L1252.0,1507.8L1252.6,1521.9L1253.0,1551.3L1253.2,1519.1L1253.5,1494.4L1253.7,1531.7L1254.3,1516.4L1254.9,1524.4L1255.4,1540.8L1256.0,1526.2L1256.6,1528.4L1257.0,1514.4L1257.0,1551.3L1257.1,1520.7L1257.7,1518.1L1258.3,1542.3L1258.8,1526.0L1259.4,1535.0L1260.0,1540.5L1260.5,1535.3L1261.0,1514.4L1261.1,1535.0L1261.6,1538.4L1262.0,1559.3L1262.2,1535.1L1262.8,1548.8L1263.3,1527.5L1263.9,1553.8L1264.5,1522.0L1265.0,1529.2L1265.6,1555.7L1266.0,1516.4L1266.2,1559.4L1266.7,1543.6L1267.3,1549.8L1267.5,1571.3L1267.9,1532.0L1268.4,1540.6L1269.0,1518.4L1269.0,1520.0L1269.6,1547.4L1270.1,1523.2L1270.7,1546.0L1271.0,1506.4L1271.3,1523.2L1271.8,1536.3L1272.0,1553.3L1272.4,1524.6L1272.9,1526.6L1273.5,1526.7L1274.1,1509.9L1274.6,1533.9L1275.0,1504.4L1275.2,1534.5L1275.8,1536.5L1276.0,1547.4L1276.3,1523.1L1276.9,1510.9L1277.5,1505.8L1278.0,1530.4L1278.6,1507.1L1279.0,1504.4L1279.2,1533.6L1279.7,1523.4L1280.3,1512.3L1280.9,1510.3L1281.0,1543.4L1281.4,1520.2L1282.0,1510.4L1282.6,1519.9L1283.0,1537.4L1283.1,1516.5L1283.7,1520.9L1284.0,1504.4L1284.2,1515.9L1284.8,1524.8L1285.4,1519.4L1285.9,1543.6L1286.0,1516.4L1286.5,1534.9L1287.1,1539.1L1287.5,1561.3L1287.6,1540.3L1288.2,1539.0L1288.8,1535.3L1289.3,1526.7L1289.9,1545.4L1290.0,1514.4L1290.5,1545.8L1291.0,1523.8L1291.6,1542.9L1292.0,1549.3L1292.2,1531.9L1292.7,1542.7L1293.3,1529.5L1293.9,1549.9L1294.4,1541.5L1294.9,1555.3L1295.0,1551.3L1295.4,1504.4L1295.5,1545.6L1296.1,1520.3L1296.7,1525.3L1297.2,1530.0L1297.8,1532.7L1298.4,1534.3L1298.9,1530.2L1298.9,1555.3L1299.5,1553.0L1299.9,1522.4L1300.1,1532.9L1300.6,1537.2L1301.2,1540.1L1301.8,1537.5L1301.9,1557.3L1302.3,1521.2L1302.9,1527.1L1303.5,1544.8L1303.9,1520.4L1304.0,1533.8L1304.6,1537.0L1305.2,1541.4L1305.7,1555.7L1305.9,1561.3L1306.3,1525.8L1306.8,1522.4L1307.4,1535.2L1307.9,1494.4L1308.0,1521.7L1308.5,1551.2L1309.1,1525.0L1309.7,1510.8L1309.9,1557.3L1310.2,1523.7L1310.8,1541.9L1311.4,1550.1L1311.9,1523.2L1311.9,1520.4L1312.5,1529.8L1313.1,1548.4L1313.6,1546.7L1313.9,1557.3L1314.2,1530.5L1314.8,1534.0L1314.9,1522.4L1315.3,1526.9L1315.9,1526.3L1316.5,1533.9L1317.0,1547.3L1317.6,1530.5L1317.9,1522.4L1318.1,1546.9L1318.7,1547.7L1318.9,1557.3L1319.3,1548.2L1319.8,1552.1L1320.4,1542.6L1321.0,1543.7L1321.5,1534.0L1321.9,1526.4L1321.9,1559.3L1322.1,1540.7L1322.7,1543.6L1323.2,1530.2L1323.8,1548.6L1324.4,1557.0L1324.9,1540.2L1325.5,1549.7L1325.9,1528.4L1325.9,1561.3L1326.1,1550.1L1326.6,1543.7L1327.2,1543.6L1327.8,1547.4L1328.3,1539.9L1328.9,1545.5L1328.9,1534.4L1329.4,1540.8L1329.9,1561.3L1330.0,1551.6L1330.6,1540.6L1331.1,1547.8L1331.7,1529.0L1331.9,1524.4L1332.3,1547.8L1332.8,1527.4L1333.4,1551.3L1333.9,1557.3L1334.0,1534.0L1334.5,1531.7L1334.9,1518.4L1335.1,1531.2L1335.7,1543.3L1336.2,1536.8L1336.8,1522.4L1337.4,1540.9L1337.9,1520.4L1337.9,1557.3L1337.9,1551.6L1338.5,1525.7L1339.1,1540.7L1339.6,1543.4L1340.2,1537.6L1340.7,1540.2L1341.3,1549.1L1341.9,1541.5L1341.9,1526.4L1341.9,1555.3L1342.4,1550.2L1343.0,1532.1L1343.6,1533.2L1344.1,1549.5L1344.7,1532.8L1344.9,1551.3L1345.3,1527.0L1345.8,1543.9L1346.4,1530.5L1347.0,1542.9L1347.4,1514.4L1347.5,1526.5L1347.9,1555.3L1348.1,1522.2L1348.7,1543.9L1349.2,1539.6L1349.8,1533.2L1350.4,1552.1L1350.9,1541.5L1351.5,1548.8L1351.9,1532.4L1351.9,1561.3L1352.0,1552.3L1352.6,1558.8L1353.2,1547.3L1353.7,1543.4L1354.3,1546.4L1354.9,1542.0L1354.9,1532.4L1355.4,1554.3L1355.9,1559.3L1356.0,1551.6L1356.6,1542.3L1357.1,1532.4L1357.7,1536.9L1357.9,1518.4L1358.3,1542.1L1358.8,1524.9L1359.4,1529.5L1359.9,1557.3L1360.0,1532.4L1360.5,1531.2L1361.1,1531.3L1361.7,1522.1L1362.2,1511.1L1362.8,1514.3L1363.3,1513.5L1363.9,1490.4L1363.9,1545.4L1363.9,1530.0L1364.5,1506.0L1365.0,1499.1L1365.6,1530.4L1366.2,1508.8L1366.7,1520.5L1367.3,1511.3L1367.9,1531.1L1367.9,1545.4L1368.4,1532.5L1368.9,1506.4L1369.0,1538.5L1369.6,1529.4L1369.9,1555.3L1370.1,1524.4L1370.7,1515.3L1371.3,1524.8L1371.8,1546.5L1371.9,1514.4L1372.4,1552.5L1373.0,1544.7L1373.5,1543.0L1373.9,1524.4L1373.9,1555.3L1374.1,1536.9L1374.6,1538.0L1375.2,1542.1L1375.8,1542.1L1376.3,1548.2L1376.9,1521.4L1377.5,1519.6L1377.9,1514.4L1377.9,1555.3L1378.0,1540.0L1378.6,1530.6L1379.2,1527.4L1379.7,1532.1L1380.3,1544.6L1380.9,1513.6L1380.9,1498.4L1380.9,1553.3L1381.4,1523.2L1382.0,1506.2L1382.6,1526.7L1382.9,1537.4L1383.1,1520.2L1383.7,1514.2L1384.3,1515.3L1384.8,1518.1L1384.9,1498.4L1384.9,1549.3L1385.4,1507.2L1385.9,1527.9L1386.5,1525.2L1387.1,1531.8L1387.6,1526.2L1388.2,1531.4L1388.8,1543.5L1388.9,1500.4L1388.9,1555.3L1389.3,1531.9L1389.9,1508.6L1390.5,1531.7L1391.0,1538.7L1391.6,1514.4L1391.9,1555.3L1392.2,1524.7L1392.7,1537.5L1393.3,1521.5L1393.9,1518.8L1393.9,1502.4L1393.9,1541.4L1394.4,1523.3L1395.0,1519.9L1395.6,1512.1L1396.1,1505.2L1396.7,1503.0L1397.2,1503.8L1397.8,1527.3L1397.9,1492.4L1397.9,1531.4L1398.4,1498.9L1398.9,1504.9L1399.5,1505.5L1400.1,1514.4L1400.6,1496.3L1401.2,1505.3L1401.8,1508.1L1401.9,1490.4L1401.9,1527.4L1402.3,1506.3L1402.9,1499.4L1403.5,1517.2L1404.0,1503.4L1404.6,1504.5L1405.2,1508.2L1405.7,1519.6L1406.3,1516.3L1406.9,1508.2L1406.9,1489.4L1406.9,1523.4L1407.4,1509.5L1408.0,1505.2L1408.5,1502.5L1408.9,1521.4L1409.1,1515.9L1409.7,1512.4L1409.9,1492.4L1410.2,1521.1L1410.8,1500.3L1411.4,1511.0L1411.9,1549.3L1411.9,1536.3L1412.5,1518.6L1413.1,1522.0L1413.6,1510.1L1413.9,1492.4L1414.2,1495.8L1414.8,1523.5L1415.3,1524.4L1415.9,1561.3L1415.9,1501.9L1416.5,1526.4L1416.9,1490.4L1417.0,1521.3L1417.6,1502.2L1418.2,1512.1L1418.7,1496.7L1419.3,1509.3L1419.8,1535.1L1419.9,1492.4L1420.4,1525.9L1420.9,1561.3L1421.0,1497.2L1421.5,1538.2L1422.1,1521.1L1422.7,1534.3L1423.2,1545.7L1423.8,1544.8L1423.9,1494.4L1424.4,1529.2L1424.9,1528.0L1425.5,1534.4L1425.9,1553.3L1426.1,1521.0L1426.6,1533.7L1427.2,1536.8L1427.8,1508.9L1427.9,1494.4L1428.3,1530.0L1428.9,1513.0L1429.5,1516.8L1429.9,1545.4L1430.0,1524.7L1430.6,1523.4L1431.1,1497.3L1431.7,1534.0L1431.9,1490.4L1432.3,1518.7L1432.8,1511.5L1433.4,1511.5L1433.9,1543.4L1434.0,1529.0L1434.5,1503.6L1434.9,1490.4L1435.1,1502.3L1435.7,1535.6L1436.2,1508.0L1436.8,1516.7L1436.9,1537.4L1437.4,1508.9L1437.9,1502.4L1437.9,1519.4L1438.5,1523.4L1439.1,1541.9L1439.6,1540.7L1440.2,1514.4L1440.8,1529.6L1440.9,1504.4L1441.3,1526.3L1441.9,1535.4L1442.4,1555.3L1442.4,1502.2L1443.0,1523.7L1443.6,1520.4L1444.1,1507.1L1444.7,1540.0L1445.3,1500.3L1445.8,1544.3L1446.4,1520.8L1446.9,1484.4L1446.9,1543.4L1447.0,1529.0L1447.5,1508.4L1448.1,1520.0L1448.7,1514.6L1449.2,1518.9L1449.8,1503.8L1449.9,1539.4L1450.4,1537.2L1450.9,1534.0L1451.5,1532.0L1451.9,1500.4L1452.1,1512.5L1452.6,1529.8L1453.2,1516.8L1453.7,1515.0L1453.9,1537.4L1454.3,1527.5L1454.9,1500.4L1454.9,1530.7L1455.4,1531.2L1456.0,1527.6L1456.6,1522.2L1457.1,1545.2L1457.7,1539.6L1457.9,1557.3L1458.3,1527.2L1458.8,1541.4L1458.9,1514.4L1459.4,1518.3L1460.0,1530.9L1460.5,1528.1L1461.1,1542.7L1461.7,1553.1L1461.8,1522.4L1461.8,1561.3L1462.2,1540.5L1462.8,1549.7L1463.4,1544.3L1463.8,1530.4L1463.9,1536.7L1464.5,1541.1L1465.0,1554.8L1465.6,1549.5L1465.8,1561.3L1466.2,1557.8L1466.7,1558.8L1467.3,1535.4L1467.8,1526.4L1467.9,1549.5L1468.4,1554.0L1469.0,1532.9L1469.6,1554.3L1469.8,1565.3L1470.1,1556.7L1470.7,1557.1L1471.3,1553.2L1471.8,1549.6L1471.8,1524.4L1472.4,1530.7L1473.0,1549.7L1473.5,1536.5L1473.8,1561.3L1474.1,1538.4L1474.7,1536.6L1475.2,1536.8L1475.8,1545.9L1476.3,1547.4L1476.9,1536.2L1477.5,1526.9L1477.8,1522.4L1477.8,1559.3L1478.0,1544.4L1478.6,1536.6L1479.2,1536.7L1479.7,1533.1L1480.3,1533.5L1480.9,1550.8L1481.4,1545.3L1482.0,1550.8L1482.6,1524.9L1483.1,1550.1L1483.7,1553.2L1483.8,1521.4L1483.8,1557.3L1484.3,1534.9L1484.8,1544.8L1485.0,1522.4L1485.0,1559.3L1485.4,1542.6L1486.0,1536.5L1486.5,1546.9L1487.1,1535.5L1487.6,1530.8L1488.0,1557.3L1488.2,1538.2L1488.8,1539.4L1489.3,1554.9L1489.9,1553.2L1490.5,1540.5L1491.0,1522.4L1491.0,1533.6L1491.6,1525.5L1492.0,1555.3L1492.2,1540.4L1492.7,1543.2L1493.3,1536.2L1493.9,1538.7L1494.4,1544.6L1495.0,1524.4L1495.0,1531.7L1495.6,1534.9L1496.1,1546.1L1496.7,1534.1L1497.0,1555.3L1497.3,1544.8L1497.8,1538.2L1498.4,1535.5L1498.9,1530.9L1499.0,1514.4L1499.5,1537.0L1500.1,1534.1L1500.6,1517.8L1501.0,1555.3L1501.2,1526.3L1501.8,1546.1L1502.0,1494.4L1502.3,1513.4L1502.9,1500.5L1503.5,1528.9L1504.0,1549.3L1504.0,1528.7L1504.6,1506.5L1505.2,1498.9L1505.7,1517.4L1506.3,1526.6L1506.9,1521.4L1507.0,1494.4L1507.0,1541.4L1507.4,1508.3L1508.0,1507.0L1508.6,1510.8L1509.1,1509.0L1509.7,1515.0L1510.0,1519.4L1510.2,1506.4L1510.8,1507.9L1511.4,1516.1L1511.9,1501.2L1512.0,1517.4L1512.5,1512.4L1513.0,1494.4L1513.0,1527.4L1513.1,1500.3L1513.6,1510.0L1514.2,1501.1L1514.8,1503.4L1515.0,1533.4L1515.3,1513.3L1515.9,1506.7L1516.0,1490.4L1516.5,1500.4L1517.0,1514.1L1517.6,1507.8L1518.0,1474.4L1518.0,1533.4L1518.2,1492.7L1518.7,1495.4L1519.3,1501.4L1519.9,1513.6L1520.0,1521.4L1520.4,1493.6L1521.0,1486.7L1521.5,1489.6L1522.0,1468.4L1522.1,1486.8L1522.7,1474.8L1523.0,1515.4L1523.2,1487.7L1523.8,1505.5L1524.4,1492.3L1524.9,1473.5L1525.0,1442.4L1525.0,1511.4L1525.5,1477.4L1526.0,1432.4L1526.1,1437.0L1526.6,1461.5L1527.0,1495.4L1527.2,1466.3L1527.8,1455.9L1528.3,1440.5L1528.9,1470.7L1529.5,1482.7L1530.0,1445.4L1530.6,1451.3L1531.0,1431.4L1531.2,1459.6L1531.7,1478.1L1532.0,1493.4L1532.3,1475.3L1532.8,1482.2L1533.4,1464.4L1534.0,1438.4L1534.0,1489.4L1534.0,1448.8L1534.5,1477.6L1535.0,1460.4L1535.0,1497.4L1535.1,1486.9L1535.7,1499.4L1536.0,1525.4L1536.2,1522.2L1536.8,1534.2L1537.0,1478.4L1537.0,1543.4L1537.4,1507.9L1537.9,1504.2L1538.5,1527.4L1539.1,1505.6L1539.6,1501.1L1540.0,1486.4L1540.2,1503.0L1540.8,1534.3L1541.0,1545.4L1541.3,1531.0L1541.9,1518.7L1542.0,1510.4L1542.5,1535.8L1543.0,1521.4L1543.6,1521.3L1544.1,1515.6L1544.7,1523.1L1545.0,1512.4L1545.0,1551.3L1545.3,1540.6L1545.8,1540.6L1546.4,1523.1L1547.0,1541.3L1547.5,1539.2L1548.0,1518.4L1548.0,1551.3L1548.1,1522.3L1548.7,1541.1L1549.2,1547.8L1549.8,1522.2L1550.4,1537.8L1550.9,1543.0L1551.0,1565.3L1551.5,1518.6L1552.1,1534.4L1552.6,1539.2L1553.0,1510.4L1553.2,1527.3L1553.8,1535.5L1554.3,1557.8L1554.9,1537.8L1555.0,1567.3L1555.4,1542.9L1556.0,1545.8L1556.6,1557.9L1557.1,1551.7L1557.7,1541.0L1558.0,1520.4L1558.3,1544.5L1558.8,1524.7L1559.0,1571.3L1559.4,1542.1L1560.0,1542.4L1560.5,1542.5L1561.1,1536.3L1561.7,1560.7L1562.0,1522.4L1562.0,1565.3L1562.2,1561.0L1562.8,1554.6L1563.4,1547.1L1563.9,1536.6L1564.5,1538.5L1565.0,1522.4L1565.0,1561.3L1565.1,1551.5L1565.6,1539.4L1566.2,1527.1L1566.7,1543.9L1567.3,1538.3L1567.9,1539.1L1568.0,1514.4L1568.4,1540.2L1568.9,1555.3L1569.0,1530.5L1569.6,1525.4L1570.1,1549.0L1570.7,1530.1L1571.3,1531.3L1571.8,1530.5L1571.9,1547.4L1572.4,1519.3L1572.9,1514.4L1573.0,1521.7L1573.5,1518.6L1574.1,1524.2L1574.7,1530.7L1574.9,1539.4L1575.2,1528.8L1575.8,1526.7L1576.4,1529.9L1576.9,1527.7L1576.9,1516.4L1577.5,1534.6L1578.0,1527.9L1578.6,1524.8L1578.9,1541.4L1579.2,1518.4L1579.7,1529.7L1580.3,1521.5L1580.9,1528.0L1580.9,1492.4L1581.4,1531.3L1582.0,1506.8L1582.6,1511.3L1582.9,1539.4L1583.1,1526.7L1583.7,1525.6L1584.3,1528.8L1584.8,1527.1L1585.4,1528.8L1585.9,1512.4L1586.0,1523.3L1586.5,1528.8L1586.9,1541.4L1587.1,1533.4L1587.7,1522.5L1588.2,1520.4L1588.8,1526.7L1588.9,1514.4L1588.9,1537.4L1589.3,1522.9L1589.9,1529.8L1590.5,1519.5L1591.0,1518.0L1591.6,1523.3L1591.9,1494.4L1592.2,1517.0L1592.7,1504.8L1592.9,1535.4L1593.3,1521.6L1593.9,1507.9L1594.4,1516.7L1595.0,1526.0L1595.6,1524.1L1595.9,1492.4L1596.1,1514.2L1596.7,1528.7L1596.9,1545.4L1597.3,1508.1L1597.8,1509.3L1598.4,1496.6L1599.0,1509.8L1599.5,1509.2L1600.1,1515.5L1600.4,1478.4L1600.6,1532.1L1600.9,1545.4L1601.2,1519.8L1601.8,1509.9L1602.3,1513.2L1602.9,1518.2L1603.5,1518.5L1604.0,1519.5L1604.6,1512.5L1604.9,1492.4L1604.9,1541.4L1605.2,1519.7L1605.7,1520.9L1606.3,1536.0L1606.9,1522.2L1607.4,1499.0L1607.9,1498.4L1608.0,1524.5L1608.6,1504.5L1608.9,1547.4L1609.1,1532.1L1609.7,1506.2L1609.9,1502.4L1610.3,1504.1L1610.8,1521.6L1611.4,1540.9L1611.9,1537.4L1612.5,1541.2L1612.9,1504.4L1612.9,1551.3L1613.1,1518.8L1613.6,1518.4L1614.2,1537.2L1614.8,1520.9L1615.3,1529.6L1615.9,1520.8L1616.5,1515.5L1616.9,1506.4L1616.9,1549.3L1617.0,1532.1L1617.6,1526.9L1618.2,1535.1L1618.7,1535.0L1619.3,1536.7L1619.9,1526.8L1619.9,1518.4L1619.9,1543.4L1620.4,1526.2L1621.0,1514.4L1621.6,1521.3L1622.1,1515.8L1622.7,1533.0L1622.9,1500.4L1623.2,1523.0L1623.8,1546.4L1624.4,1529.0L1624.9,1561.3L1624.9,1547.1L1625.5,1530.5L1626.1,1525.2L1626.6,1517.2L1626.9,1498.4L1627.2,1519.9L1627.8,1533.0L1628.3,1532.8L1628.9,1536.0L1629.5,1531.7L1629.9,1549.3L1630.0,1513.1L1630.6,1543.0L1630.9,1500.4L1631.2,1530.4L1631.7,1530.6L1632.3,1542.6L1632.9,1526.5L1633.4,1575.3L1633.4,1535.2L1633.9,1518.4L1634.0,1545.7L1634.5,1536.0L1635.1,1545.4L1635.7,1546.8L1636.2,1551.5L1636.8,1533.1L1637.4,1531.7L1637.9,1563.3L1637.9,1550.6L1638.5,1537.1L1638.9,1519.4L1639.1,1532.8L1639.6,1524.9L1639.9,1549.3L1640.2,1534.2L1640.8,1543.1L1641.3,1534.0L1641.9,1534.6L1642.5,1538.8L1642.9,1519.4L1643.0,1544.8L1643.6,1546.7L1643.9,1575.3L1644.2,1555.8L1644.7,1550.1L1645.3,1527.9L1645.8,1538.8L1645.9,1522.4L1646.4,1546.3L1647.0,1548.8L1647.5,1545.7L1647.9,1561.3L1648.1,1550.9L1648.7,1558.9L1648.9,1530.4L1649.2,1554.6L1649.8,1549.0L1650.4,1535.6L1650.9,1543.8L1651.5,1547.3L1651.9,1559.3L1652.1,1545.1L1652.6,1537.6L1653.2,1549.9L1653.8,1537.6L1653.9,1530.4L1654.3,1539.6L1654.9,1543.7L1654.9,1549.3L1655.5,1546.3L1656.0,1548.5L1656.6,1541.0L1657.1,1542.4L1657.7,1546.3L1658.3,1545.0L1658.8,1537.0L1658.9,1532.4L1658.9,1557.3L1659.4,1542.9L1660.0,1548.8L1660.5,1562.1L1661.1,1551.5L1661.7,1550.1L1662.2,1542.1L1662.8,1565.9L1662.9,1536.4L1663.4,1568.3L1663.9,1577.3L1663.9,1548.5L1664.5,1542.0L1665.1,1557.1L1665.6,1547.6L1666.2,1534.9L1666.8,1537.4L1667.3,1546.6L1667.4,1524.4L1667.9,1545.9L1667.9,1555.3L1668.4,1545.0L1669.0,1542.3L1669.6,1540.4L1670.1,1548.0L1670.7,1540.8L1670.9,1551.3L1671.3,1547.9L1671.8,1546.1L1671.9,1538.4L1672.4,1551.5L1673.0,1545.1L1673.5,1546.8L1673.9,1561.3L1674.1,1546.9L1674.7,1538.8L1674.9,1532.4L1675.2,1532.5L1675.8,1550.6L1676.4,1550.8L1676.9,1549.2L1677.5,1546.3L1677.9,1512.4L1678.1,1546.1L1678.6,1546.7L1679.2,1537.2L1679.4,1571.3L1679.7,1537.5L1680.3,1533.0L1680.9,1530.3L1681.4,1525.8L1681.9,1510.4L1682.0,1533.9L1682.6,1538.0L1683.1,1545.4L1683.7,1548.5L1683.9,1557.3L1684.3,1552.0L1684.8,1543.2L1684.9,1514.4L1685.4,1528.4L1686.0,1528.9L1686.5,1527.3L1687.1,1531.5L1687.7,1533.1L1688.2,1545.6L1688.8,1530.7L1688.9,1512.4L1688.9,1557.3L1689.4,1530.7L1689.9,1540.8L1690.5,1526.0L1691.0,1536.1L1691.6,1521.7L1692.2,1532.5L1692.7,1527.9L1692.9,1545.4L1693.3,1528.0L1693.9,1530.3L1693.9,1508.4L1694.4,1522.8L1695.0,1513.3L1695.6,1518.2L1696.1,1517.0L1696.7,1519.9L1696.9,1510.4L1696.9,1545.4L1697.3,1527.2L1697.8,1526.8L1698.4,1518.8L1699.0,1528.8L1699.5,1536.9L1699.9,1520.4L1700.1,1532.7L1700.7,1533.3L1700.9,1547.4L1701.2,1538.3L1701.8,1532.0L1702.3,1534.6L1702.9,1530.4L1702.9,1537.9L1703.5,1544.3L1704.0,1539.2L1704.6,1537.5L1704.9,1530.4L1704.9,1543.4L1705.2,1534.6L1705.7,1536.5L1706.3,1523.1L1706.9,1530.2L1707.4,1525.9L1707.9,1557.3L1708.0,1538.3L1708.4,1499.4L1708.6,1520.6L1709.1,1508.2L1709.7,1535.5L1710.3,1547.5L1710.8,1550.5L1711.4,1540.9L1711.9,1532.4L1711.9,1561.3L1712.0,1547.5L1712.5,1547.6L1713.1,1546.5L1713.6,1542.2L1714.2,1545.6L1714.8,1536.5L1715.3,1544.4L1715.9,1559.3L1715.9,1552.2L1716.5,1549.9L1716.9,1532.4L1717.0,1554.4L1717.6,1541.6L1718.2,1540.9L1718.7,1539.8L1718.9,1555.3L1719.3,1546.2L1719.9,1546.8L1720.4,1538.7L1720.9,1528.4L1721.0,1548.9L1721.6,1542.2L1722.1,1539.2L1722.7,1531.3L1722.9,1553.3L1723.3,1543.6L1723.8,1534.0L1724.4,1545.2L1724.9,1539.8L1725.5,1532.9L1725.9,1522.4L1726.1,1531.7L1726.6,1529.4L1726.9,1551.3L1727.2,1526.4L1727.8,1545.3L1728.3,1545.6L1728.9,1524.4L1728.9,1541.4L1729.5,1557.4L1730.0,1551.9L1730.4,1571.3L1730.6,1548.7L1731.2,1542.2L1731.7,1552.6L1732.3,1541.7L1732.9,1525.4L1732.9,1542.9L1733.4,1546.6L1733.9,1557.3L1734.0,1532.4L1734.6,1539.1L1735.1,1532.8L1735.7,1550.0L1736.2,1530.6L1736.8,1553.9L1736.8,1525.4L1736.8,1559.3L1737.4,1540.9L1737.9,1538.5L1738.5,1534.0L1739.1,1542.5L1739.6,1541.0L1740.2,1543.3L1740.8,1541.7L1740.8,1526.4L1740.8,1559.3L1741.3,1557.1L1741.9,1536.2L1742.5,1548.2L1743.0,1551.3L1743.6,1549.0L1744.2,1538.8L1744.7,1547.4L1744.8,1522.4L1744.8,1557.3L1745.3,1547.5L1745.9,1539.1L1746.4,1538.1L1746.8,1514.4L1747.0,1525.7L1747.5,1541.2L1747.8,1547.4L1748.1,1535.4L1748.7,1529.4L1749.2,1532.0L1749.8,1522.1L1750.4,1531.4L1750.9,1527.7L1751.5,1527.0L1752.1,1537.9L1752.6,1526.8L1752.8,1514.4L1752.8,1543.4L1753.2,1524.8L1753.8,1530.1L1754.3,1515.8L1754.9,1519.6L1755.5,1521.2L1755.8,1510.4L1756.0,1527.4L1756.6,1508.4L1756.8,1486.4L1756.8,1543.4L1757.2,1509.2L1757.7,1494.9L1758.3,1507.1L1758.8,1517.7L1759.4,1505.4L1759.8,1478.4L1759.8,1537.4L1760.0,1510.6L1760.0,1476.4L1760.0,1545.4L1760.5,1499.9L1761.1,1518.5L1761.7,1510.3L1762.2,1514.0L1762.8,1479.0L1763.0,1462.4L1763.0,1511.4L1763.4,1480.6L1763.9,1468.6L1764.5,1486.6L1765.1,1502.5L1765.6,1481.9L1766.2,1470.0L1766.8,1483.6L1767.3,1467.9L1767.9,1491.2L1768.0,1505.4L1768.5,1488.6L1769.0,1460.4L1769.0,1485.0L1769.6,1486.7L1770.1,1482.0L1770.7,1483.8L1771.3,1458.8L1771.8,1479.2L1772.0,1452.4L1772.0,1513.4L1772.4,1511.1L1773.0,1473.4L1773.5,1497.2L1774.1,1504.0L1774.7,1481.3L1775.0,1454.4L1775.0,1529.4L1775.2,1464.1L1775.8,1483.3L1776.4,1492.8L1776.9,1489.9L1777.5,1493.9L1778.0,1474.4L1778.1,1490.0L1778.6,1492.1L1779.0,1507.4L1779.2,1484.0L1779.8,1494.6L1780.3,1502.0L1780.9,1487.5L1781.4,1502.7L1782.0,1480.4L1782.0,1517.4L1782.0,1495.7L1782.6,1492.3L1783.1,1497.6L1783.7,1502.2L1784.3,1508.0L1784.8,1515.2L1785.0,1492.4L1785.4,1513.3L1786.0,1531.8L1786.5,1559.3L1786.5,1505.5L1787.1,1513.5L1787.7,1526.8L1788.2,1502.9L1788.8,1534.7L1789.4,1496.5L1789.9,1524.4L1790.0,1482.4L1790.5,1496.7L1791.1,1513.8L1791.6,1511.0L1792.0,1549.3L1792.2,1539.9L1792.7,1523.4L1793.3,1520.3L1793.9,1530.2L1794.4,1519.8L1795.0,1502.4L1795.0,1510.0L1795.6,1516.7L1796.1,1524.1L1796.7,1527.2L1797.3,1539.7L1797.8,1506.5L1798.4,1513.5L1798.5,1494.4L1799.0,1505.1L1799.5,1511.3L1800.0,1551.3L1800.1,1519.5L1800.7,1547.7L1801.2,1536.9L1801.8,1534.0L1802.0,1510.4L1802.4,1535.3L1802.9,1534.9L1803.0,1555.3L1803.5,1524.1L1804.0,1530.3L1804.6,1528.9L1805.2,1546.2L1805.7,1553.2L1806.3,1549.0L1806.9,1554.9L1807.4,1546.1L1808.0,1542.0L1808.6,1547.5L1809.0,1510.4L1809.0,1571.3L1809.1,1531.4L1809.7,1540.9L1810.3,1529.5L1810.8,1534.5L1811.4,1540.6L1812.0,1527.8L1812.5,1553.4L1813.0,1514.4L1813.1,1530.7L1813.7,1542.0L1814.0,1557.3L1814.2,1538.4L1814.8,1557.0L1815.0,1520.4L1815.3,1546.1L1815.9,1552.0L1816.5,1544.5L1817.0,1531.4L1817.6,1562.3L1818.0,1569.3L1818.2,1538.9L1818.7,1560.8L1819.0,1522.4L1819.3,1558.8L1819.9,1550.7L1820.4,1557.8L1821.0,1538.4L1821.0,1561.6L1821.6,1548.5L1822.0,1573.3L1822.1,1568.0L1822.7,1556.7L1823.3,1562.1L1823.8,1568.0L1824.0,1536.4L1824.4,1543.6L1825.0,1544.6L1825.5,1553.4L1826.1,1540.9L1826.6,1565.3L1827.0,1536.4L1827.2,1549.6L1827.8,1563.8L1828.0,1575.3L1828.3,1565.0L1828.9,1559.4L1829.0,1546.4L1829.5,1568.8L1830.0,1558.9L1830.6,1561.5L1831.2,1557.4L1831.7,1563.4L1832.0,1577.3L1832.3,1556.6L1832.9,1568.5L1833.4,1558.4L1834.0,1560.1L1834.6,1561.1L1835.1,1553.9L1835.7,1560.7L1836.0,1546.4L1836.0,1585.3L1836.3,1550.8L1836.8,1576.4L1837.4,1574.8L1837.9,1558.6L1838.5,1566.9L1839.0,1581.3L1839.1,1566.1L1839.6,1577.1L1840.0,1542.4L1840.2,1552.5L1840.8,1553.1L1841.3,1557.0L1841.9,1547.2L1842.0,1573.3L1842.5,1557.5L1843.0,1553.6L1843.6,1554.1L1843.9,1540.4L1844.2,1553.7L1844.7,1551.1L1845.3,1547.6L1845.9,1548.4L1845.9,1573.3L1846.4,1557.0L1847.0,1557.9L1847.6,1541.2L1848.1,1553.2L1848.7,1534.8L1848.9,1575.3L1849.2,1554.9L1849.8,1552.5L1849.9,1520.4L1850.4,1546.7L1850.9,1538.3L1851.5,1541.7L1852.1,1540.3L1852.6,1539.8L1852.9,1557.3L1853.2,1542.8L1853.8,1538.8L1853.9,1536.4L1854.3,1541.3L1854.9,1553.8L1855.5,1548.4L1856.0,1542.4L1856.6,1552.9L1856.9,1561.3L1857.2,1557.9L1857.7,1537.0L1857.9,1536.4L1858.3,1546.0L1858.9,1538.1L1859.4,1548.0L1859.9,1567.3L1860.0,1537.7L1860.5,1547.0L1861.1,1535.1L1861.4,1520.4L1861.7,1532.8L1862.2,1564.9L1862.8,1551.3L1863.4,1572.9L1863.9,1575.3L1863.9,1549.1L1864.5,1544.1L1865.1,1560.6L1865.6,1569.6L1865.9,1536.4L1866.2,1557.9L1866.8,1545.2L1866.9,1571.3L1867.3,1553.1L1867.9,1558.2L1868.5,1538.5L1868.9,1522.4L1869.0,1547.2L1869.6,1545.9L1869.9,1559.3L1870.2,1537.0L1870.7,1554.9L1871.3,1541.0L1871.8,1517.5L1871.9,1500.4L1872.4,1512.4L1873.0,1513.8L1873.5,1561.1L1873.9,1569.3L1874.1,1519.0L1874.7,1536.2L1875.2,1513.8L1875.8,1535.4L1875.9,1500.4L1876.4,1518.3L1876.9,1546.3L1877.5,1549.9L1878.1,1536.8L1878.6,1536.8L1879.2,1527.9L1879.8,1561.2L1879.9,1504.4L1879.9,1571.3L1880.3,1538.6L1880.9,1549.2L1881.5,1556.4L1882.0,1538.0L1882.6,1544.4L1882.9,1506.4L1883.1,1565.7L1883.7,1536.4L1883.9,1575.3L1884.3,1549.1L1884.8,1553.5L1884.9,1536.4L1885.4,1565.6L1886.0,1551.8L1886.5,1554.6L1887.1,1564.6L1887.7,1564.5L1887.9,1538.4L1888.2,1566.7L1888.8,1551.9L1889.4,1556.5L1889.9,1546.4L1889.9,1575.3L1889.9,1571.6L1890.5,1571.6L1891.1,1570.5L1891.6,1557.0L1892.2,1557.6L1892.8,1558.8L1893.3,1552.4L1893.9,1552.0L1893.9,1542.4L1893.9,1573.3L1894.4,1560.3L1895.0,1554.3L1895.6,1535.3L1896.1,1554.4L1896.7,1545.8L1896.9,1522.4L1897.3,1551.4L1897.8,1528.0L1897.9,1565.3L1898.4,1545.1L1899.0,1536.9L1899.5,1542.1L1899.9,1520.4L1900.1,1533.4L1900.7,1540.9L1901.2,1540.9L1901.8,1534.4L1901.9,1555.3L1902.4,1536.8L1902.9,1539.8L1903.5,1532.4L1903.9,1524.4L1904.1,1540.4L1904.6,1535.8L1904.9,1551.3L1905.2,1529.2L1905.7,1535.0L1906.3,1550.6L1906.9,1549.1L1907.4,1544.4L1907.9,1561.3L1908.0,1549.7L1908.6,1554.3L1909.1,1543.4L1909.7,1533.3L1909.9,1525.4L1910.3,1541.9L1910.8,1550.4L1911.4,1543.4L1911.9,1565.3L1912.0,1531.5L1912.5,1551.0L1913.1,1550.7L1913.7,1536.1L1914.2,1547.2L1914.8,1551.9L1914.9,1565.3L1915.4,1539.4L1915.9,1553.8L1916.5,1539.6L1917.0,1560.9L1917.6,1552.5L1917.9,1525.4L1918.2,1549.4L1918.7,1539.7L1919.3,1549.1L1919.4,1575.3L1919.9,1532.1L1920.4,1561.0L1920.9,1528.4L1921.0,1558.9L1921.6,1548.1L1922.1,1540.3L1922.7,1541.1L1923.3,1536.7L1923.8,1545.4L1923.9,1561.3L1924.4,1539.3L1924.9,1536.4L1925.0,1550.6L1925.5,1562.4L1926.1,1541.1L1926.7,1549.4L1927.2,1548.3L1927.8,1565.5L1927.9,1567.3L1928.3,1555.9L1928.9,1536.4L1928.9,1567.3L1929.5,1574.3L1930.0,1571.4L1930.6,1565.9L1930.9,1585.3L1931.2,1575.4L1931.7,1559.0L1931.9,1548.4L1932.3,1573.3L1932.9,1572.0L1933.4,1580.6L1933.9,1585.3L1934.0,1569.9L1934.6,1570.3L1934.9,1560.3L1935.1,1576.2L1935.7,1567.6L1936.3,1561.8L1936.8,1563.5L1937.4,1571.7L1937.9,1542.4L1937.9,1581.3L1938.0,1562.1L1938.5,1553.4L1939.1,1569.1L1939.6,1574.8L1940.2,1560.2L1940.8,1560.1L1940.9,1528.4L1940.9,1575.3L1941.3,1562.4L1941.9,1548.4L1942.5,1541.6L1943.0,1545.1L1943.6,1554.0L1943.9,1559.3L1944.2,1530.6L1944.7,1547.9L1944.9,1524.4L1945.3,1544.9L1945.9,1545.7L1946.4,1547.2L1946.9,1565.3L1947.0,1551.8L1947.6,1555.7L1947.9,1530.4L1948.1,1544.3L1948.7,1557.2L1949.3,1556.2L1949.8,1558.6L1949.9,1577.3L1950.4,1572.7L1950.9,1550.4L1950.9,1562.9L1951.5,1556.1L1952.1,1568.5L1952.6,1560.4L1952.9,1579.3L1953.2,1552.3L1953.8,1559.2L1954.3,1550.7L1954.9,1542.4L1954.9,1565.4L1955.5,1562.9L1956.0,1563.0L1956.6,1569.2L1957.2,1552.6L1957.7,1559.1L1957.9,1542.4L1957.9,1580.3L1958.3,1565.9L1958.9,1559.9L1959.4,1570.2L1960.0,1550.1L1960.6,1565.0L1960.9,1577.3L1961.1,1565.1L1961.7,1569.4L1961.9,1546.4L1962.2,1560.6L1962.8,1563.3L1963.4,1558.5L1963.9,1565.3L1963.9,1559.2L1964.5,1555.1L1965.1,1560.8L1965.6,1560.7L1965.9,1547.4L1966.2,1556.9L1966.8,1571.6L1966.9,1581.3L1967.3,1571.6L1967.9,1575.9L1968.5,1558.5L1969.0,1555.5L1969.6,1562.7L1970.2,1574.0L1970.7,1560.3L1971.3,1563.5L1971.9,1564.9L1971.9,1547.4L1971.9,1585.3L1972.4,1564.1L1973.0,1571.0L1973.5,1556.2L1974.1,1561.5L1974.7,1569.2L1975.2,1579.1L1975.8,1566.6L1975.9,1542.4L1975.9,1585.3L1976.4,1560.5L1976.9,1554.2L1977.5,1560.6L1978.1,1574.8L1978.6,1564.4L1979.2,1558.9L1979.8,1571.1L1979.9,1536.4L1979.9,1593.3L1980.3,1580.9L1980.9,1560.5L1981.5,1576.2L1982.0,1573.5L1982.6,1545.6L1983.2,1583.8L1983.7,1592.4L1984.3,1574.6L1984.4,1605.3L1984.8,1550.5L1985.4,1574.7L1985.9,1535.4L1986.0,1579.1L1986.5,1570.5L1987.1,1559.1L1987.7,1573.0L1987.9,1577.3L1988.2,1556.4L1988.8,1554.3L1989.4,1555.6L1989.9,1554.9L1990.5,1559.9L1990.9,1531.4L1991.1,1555.3L1991.6,1550.2L1991.9,1563.3L1992.2,1545.7L1992.8,1547.2L1993.3,1548.7L1993.9,1538.4L1993.9,1546.2L1994.5,1552.2L1995.0,1562.1L1995.6,1562.3L1995.9,1569.3L1996.1,1557.5L1996.7,1559.6L1996.9,1552.4L1997.3,1567.8L1997.8,1561.3L1998.4,1563.5L1999.0,1559.9L1999.5,1557.8L1999.9,1573.3L2000.1,1564.6L2000.7,1564.0L2001.2,1568.4L2001.8,1569.4L2001.9,1552.4L2002.4,1567.8L2002.9,1559.6L2003.5,1555.1L2003.9,1579.3L2004.1,1560.3L2004.6,1564.5L2005.2,1557.8L2005.8,1559.3L2006.3,1553.3L2006.4,1536.4L2006.9,1573.3L2006.9,1550.8L2007.4,1558.7L2008.0,1560.1L2008.6,1564.6L2009.1,1560.4L2009.7,1559.1L2009.9,1581.3L2010.3,1572.2L2010.8,1574.9L2010.8,1554.3L2011.4,1556.5L2012.0,1578.4L2012.5,1552.8L2012.8,1597.3L2013.1,1566.7L2013.7,1559.0L2013.8,1538.4L2014.2,1565.2L2014.8,1557.4L2015.4,1569.9L2015.9,1570.4L2016.5,1568.7L2016.8,1593.3L2017.1,1546.1L2017.6,1557.4L2017.8,1532.4L2018.2,1563.8L2018.7,1556.3L2019.3,1552.2L2019.8,1589.3L2019.9,1545.9L2020.4,1564.5L2021.0,1575.9L2021.6,1540.9L2022.1,1550.6L2022.7,1557.3L2022.8,1569.3L2023.3,1545.0L2023.8,1548.1L2023.8,1522.4L2024.4,1554.5L2025.0,1561.6L2025.5,1550.7L2026.1,1540.2L2026.7,1565.6L2026.8,1571.3L2027.2,1553.2L2027.8,1547.5L2028.4,1548.5L2028.9,1551.9L2029.5,1555.6L2029.8,1532.4L2029.8,1581.3L2030.0,1566.7L2030.6,1544.1L2031.2,1546.1L2031.7,1553.8L2032.3,1569.7L2032.8,1573.3L2032.9,1545.9L2033.4,1545.5L2033.8,1536.4L2034.0,1548.1L2034.6,1556.3L2035.1,1558.8L2035.7,1542.3L2036.3,1542.6L2036.8,1558.2L2036.8,1565.3L2037.4,1556.1L2037.8,1538.4L2038.0,1544.5L2038.5,1556.8L2039.1,1558.2L2039.7,1566.9L2039.8,1575.3L2040.2,1563.0L2040.8,1555.4L2041.3,1558.8L2041.8,1544.4L2041.9,1554.3L2042.5,1560.7L2043.0,1557.6L2043.6,1569.4L2043.8,1575.3L2044.2,1549.0L2044.7,1568.1L2045.3,1562.8L2045.8,1550.4L2045.9,1562.0L2046.4,1567.9L2047.0,1563.6L2047.6,1568.8L2047.8,1573.3L2048.1,1557.0L2048.7,1563.3L2049.3,1554.4L2049.8,1557.5L2049.8,1542.4L2050.4,1555.5L2051.0,1563.8L2051.5,1557.6L2051.8,1575.3L2052.1,1563.8L2052.6,1553.5L2053.2,1563.8L2053.8,1549.5L2054.3,1544.3L2054.9,1542.5L2055.5,1534.6L2055.8,1522.4L2055.8,1573.3L2056.0,1540.8L2056.6,1550.4L2057.2,1542.7L2057.7,1550.6L2058.3,1556.5L2058.9,1557.0L2059.4,1558.4L2059.8,1542.4L2059.8,1579.3L2060.0,1560.0L2060.6,1561.3L2061.1,1557.6L2061.7,1565.1L2062.3,1563.8L2062.8,1564.7L2063.4,1568.5L2063.8,1546.4L2063.8,1579.3L2063.9,1575.7L2064.5,1558.5L2065.1,1569.9L2065.6,1564.9L2066.2,1560.8L2066.8,1556.3L2067.3,1546.0L2067.8,1538.4L2067.8,1573.3L2067.9,1565.4L2068.5,1568.2L2069.0,1553.0L2069.6,1559.7L2070.2,1554.8L2070.7,1553.8L2070.8,1536.4L2071.3,1554.1L2071.8,1573.3L2071.9,1549.9L2072.4,1551.1L2073.0,1563.5L2073.6,1546.9L2074.1,1556.2L2074.7,1568.5L2074.8,1541.4L2074.8,1575.3L2075.2,1556.3L2075.8,1554.5L2076.4,1558.4L2076.9,1545.7L2077.5,1549.9L2077.8,1559.3L2078.1,1554.1L2078.6,1547.8L2079.2,1553.8L2079.8,1557.1L2080.3,1565.8L2080.9,1553.5L2081.5,1551.8L2081.8,1542.4L2081.8,1577.3L2082.0,1564.6L2082.6,1555.7L2083.2,1577.1L2083.7,1560.2L2084.3,1566.0L2084.8,1550.4L2084.8,1579.3L2084.9,1560.2L2085.4,1562.3L2086.0,1565.8L2086.5,1560.2L2087.1,1553.0L2087.7,1554.9L2087.8,1571.3L2088.2,1553.2L2088.8,1538.8L2089.3,1526.4L2089.4,1532.4L2089.9,1538.6L2090.5,1556.8L2090.8,1571.3L2091.1,1553.3L2091.6,1552.6L2092.2,1548.9L2092.8,1555.6L2092.8,1542.4L2093.3,1547.3L2093.8,1569.3L2093.9,1562.4L2094.5,1558.0L2094.8,1554.3L2094.8,1557.3" fill="none" stroke="#0000ff" stroke-width="5.0" stroke-linejoin="round" stroke-linecap="round"/>
<path d="M908.5,1292.0L913.0,1286.0L917.0,1268.0L920.0,1240.0L923.0,1200.0L926.5,1178.0L930.0,1176.0L932.5,1196.0L933.5,1260.0L933.0,1296.0L929.0,1296.0L922.0,1292.0ZM955.0,1310.0L957.5,1266.0L960.5,1215.0L962.5,1197.0L965.0,1196.0L967.0,1215.0L967.5,1270.0L967.0,1310.0ZM931.5,1392.0L934.0,1440.0L940.0,1458.0L945.0,1455.0L948.0,1440.0L952.0,1410.0L954.0,1392.0ZM944.0,1405.0L944.0,1356.0L951.0,1350.0L952.0,1338.0L957.5,1338.0L956.5,1405.0Z" fill="#0000ff" stroke="#0000ff" stroke-width="1"/>
<path d="M521.0,1345.0L523.0,1300.0L525.5,1267.0L527.9,1200.0L529.5,1157.0L530.9,1100.0L532.2,1000.0L533.3,967.0L535.1,1000.0L535.5,1100.0L536.0,1157.0L536.5,1200.0L537.5,1267.0L538.5,1330.0L539.5,1390.0L540.5,1418.0M906.5,1405.0L908.5,1340.0L910.0,1292.0M931.0,1292.0L932.5,1350.0L934.5,1400.0L936.0,1402.0M936.0,1402.0L938.5,1440.0L942.0,1455.0L945.0,1445.0L947.0,1420.0L950.3,1356.0L953.0,1342.0L956.0,1305.0L958.0,1266.0L961.0,1212.0L963.5,1199.0L965.5,1235.0L966.0,1300.0L967.0,1370.0L969.0,1430.0L970.0,1455.0" fill="none" stroke="#0000ff" stroke-width="5.8" stroke-linejoin="round" stroke-linecap="round"/>
<rect x="1345.5" y="106.5" width="801.5" height="231.0" fill="#fff" stroke="#333" stroke-width="4"/>
<line x1="1379" y1="161" x2="1555" y2="161" stroke="#0000ff" stroke-width="6.2" stroke-linecap="round"/>
<line x1="1379" y1="278.3" x2="1555" y2="278.3" stroke="#ff0000" stroke-width="6.2" stroke-linecap="round"/>
<g transform="translate(1580.5,187.5) scale(0.962,1)"><text x="0" y="0" font-size="81" font-weight="bold" fill="#000">MoS<tspan font-size="55" dy="23">2</tspan><tspan dy="-23">/WO</tspan><tspan font-size="55" dy="23">3</tspan><tspan dy="-23" dx="3.2"> (1:1)</tspan></text></g>
<g transform="translate(1580.5,304.5) scale(0.962,1)"><text x="0" y="0" font-size="81" font-weight="bold" fill="#000">MoS<tspan font-size="55" dy="23">2</tspan><tspan dy="-23">/WO</tspan><tspan font-size="55" dy="23">3</tspan><tspan dy="-23" dx="3.2"> (1:4)</tspan></text></g>
<path d="M254.4,1639.2h32.5M254.4,1377.7h32.5M254.4,1116.1h32.5M254.4,854.6h32.5M254.4,593.1h32.5M254.4,331.5h32.5M254.4,70.0h32.5M254.4,1508.4h16M254.4,1246.9h16M254.4,985.4h16M254.4,723.8h16M254.4,462.3h16M254.4,200.8h16M395.7,1691.5v-32.5M678.4,1691.5v-32.5M961.1,1691.5v-32.5M1243.8,1691.5v-32.5M1526.5,1691.5v-32.5M1809.2,1691.5v-32.5M2091.9,1691.5v-32.5M537.1,1691.5v-16M819.8,1691.5v-16M1102.5,1691.5v-16M1385.1,1691.5v-16M1667.8,1691.5v-16M1950.5,1691.5v-16" stroke="#000" stroke-width="5.5" fill="none"/>
<rect x="254.4" y="70.0" width="1978.7999999999997" height="1621.5" fill="none" stroke="#000" stroke-width="6.5"/>
<text x="205.5" y="1657.7" font-size="65" font-weight="bold" text-anchor="end">0</text>
<text x="205.5" y="1396.2" font-size="65" font-weight="bold" text-anchor="end">50</text>
<text x="205.5" y="1134.6" font-size="65" font-weight="bold" text-anchor="end">100</text>
<text x="205.5" y="873.1" font-size="65" font-weight="bold" text-anchor="end">150</text>
<text x="205.5" y="611.6" font-size="65" font-weight="bold" text-anchor="end">200</text>
<text x="205.5" y="350.0" font-size="65" font-weight="bold" text-anchor="end">250</text>
<text x="205.5" y="88.5" font-size="65" font-weight="bold" text-anchor="end">300</text>
<text x="395.7" y="1786.5" font-size="65" font-weight="bold" text-anchor="middle">10</text>
<text x="678.4" y="1786.5" font-size="65" font-weight="bold" text-anchor="middle">20</text>
<text x="961.1" y="1786.5" font-size="65" font-weight="bold" text-anchor="middle">30</text>
<text x="1243.8" y="1786.5" font-size="65" font-weight="bold" text-anchor="middle">40</text>
<text x="1526.5" y="1786.5" font-size="65" font-weight="bold" text-anchor="middle">50</text>
<text x="1809.2" y="1786.5" font-size="65" font-weight="bold" text-anchor="middle">60</text>
<text x="2091.9" y="1786.5" font-size="65" font-weight="bold" text-anchor="middle">70</text>
<text transform="translate(79,999) rotate(-90) scale(0.992,1)" font-size="66" font-weight="bold">Intensity (a.u)</text>
<g transform="translate(1197.5,1878.5) scale(0.93,1)"><text font-size="65" font-weight="bold">2<tspan dx="4.3">θ</tspan><tspan font-size="71" dy="-0.5" dx="-0.5">°</tspan></text></g>
</svg></body></html>
